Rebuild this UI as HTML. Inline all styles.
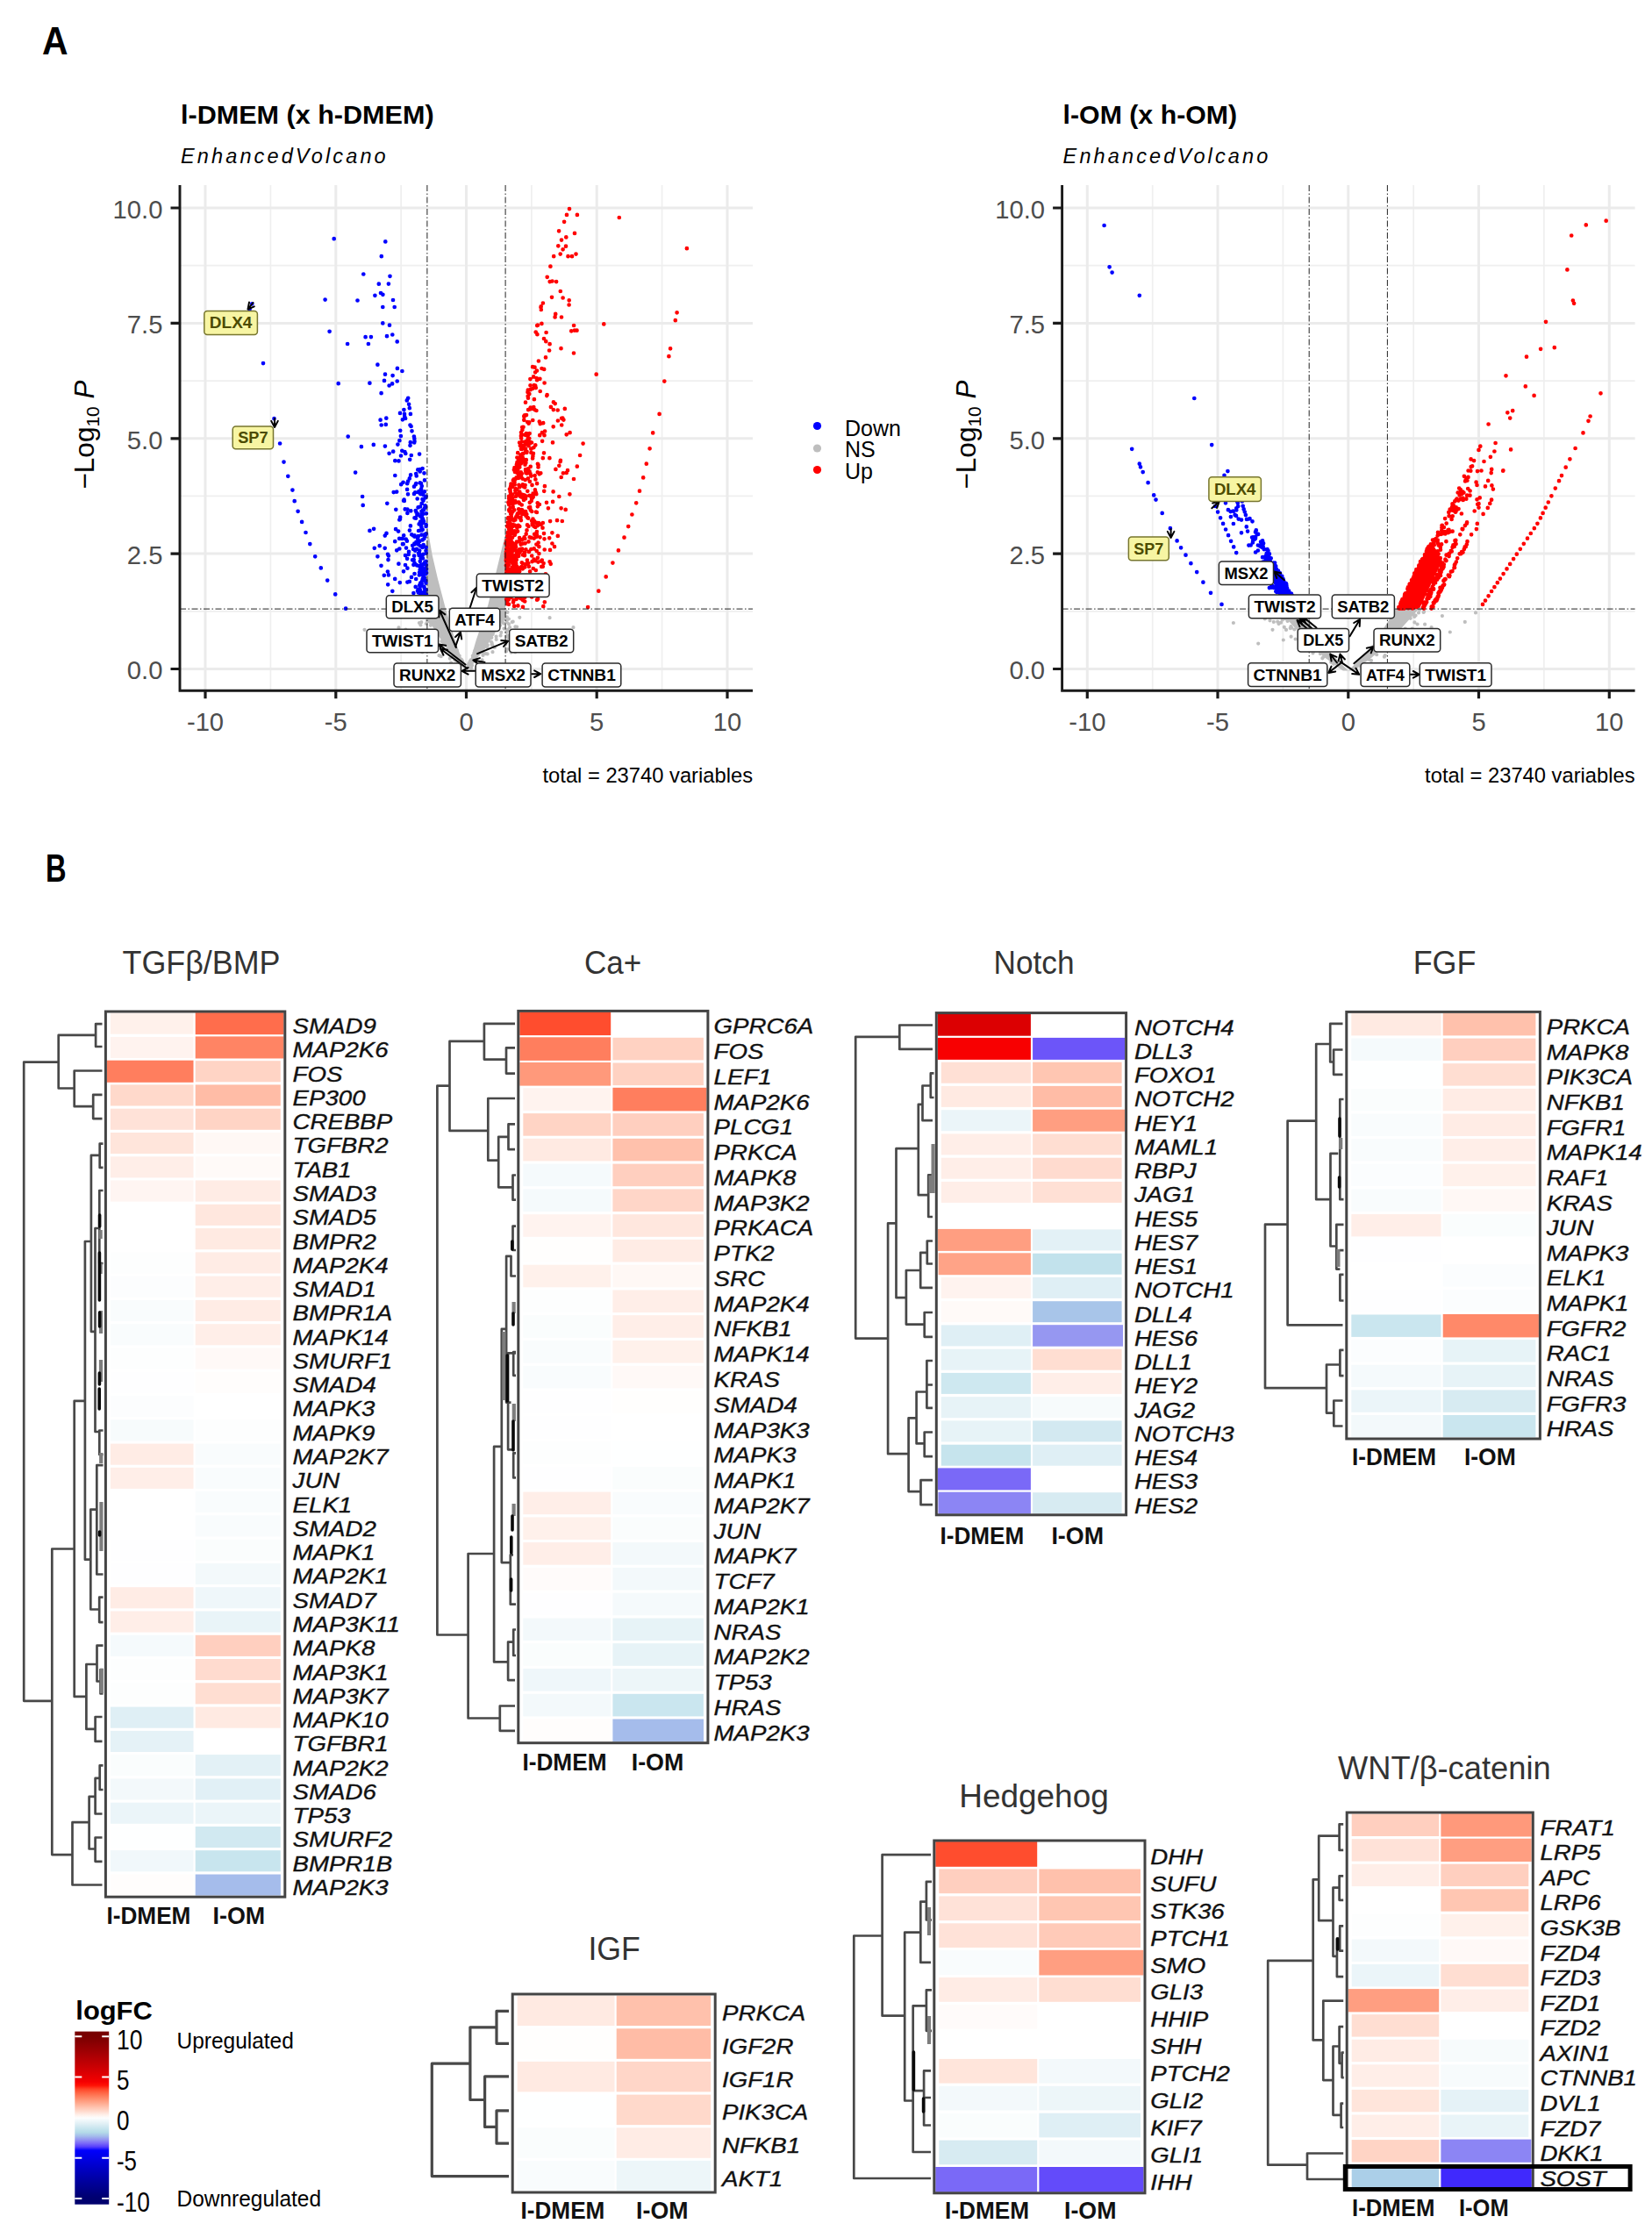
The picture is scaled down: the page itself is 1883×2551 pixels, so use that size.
<!DOCTYPE html>
<html lang="en"><head><meta charset="utf-8"><title>Figure</title>
<style>
html,body{margin:0;padding:0;background:#fff}
svg{display:block}
text{font-family:"Liberation Sans", sans-serif}
</style></head><body>
<svg width="1883" height="2551" viewBox="0 0 1883 2551">
<rect width="1883" height="2551" fill="#fff"/>
<text x="48.1" y="61.7" font-size="44" font-weight="bold" textLength="29.6" lengthAdjust="spacingAndGlyphs">A</text>
<path d="M308.4 211.0V787.3M457.1 211.0V787.3M605.9 211.0V787.3M754.6 211.0V787.3M205.0 696.8H858.0M205.0 565.4H858.0M205.0 434.1H858.0M205.0 302.7H858.0" stroke="#efefef" stroke-width="1.7" fill="none"/>
<path d="M234.0 211.0V787.3M382.8 211.0V787.3M531.5 211.0V787.3M680.2 211.0V787.3M829.0 211.0V787.3M205.0 762.5H858.0M205.0 631.1H858.0M205.0 499.8H858.0M205.0 368.4H858.0M205.0 237.0H858.0" stroke="#ebebeb" stroke-width="3" fill="none"/>
<polygon points="531.5,764.1 530.3,762.5 525.5,749.4 518.7,729.4 507.7,693.1 498.8,659.0 492.7,632.7 486.9,599.6 486.9,704.7 510.7,741.5" fill="#bebebe"/>
<polygon points="531.5,764.1 532.7,762.5 537.5,747.8 542.8,729.4 556.2,690.0 564.2,657.4 570.2,632.7 576.1,608.5 576.1,702.1 552.3,740.4" fill="#bebebe"/>
<path d="M505.9 728.5h0M558.3 715.6h0M507.9 735.1h0M516.9 746.3h0M495.1 690.6h0M574.6 679.4h0M559.5 704.6h0M535.6 754.3h0M519.6 747.6h0M493.7 690.8h0M560.6 732.8h0M518.0 734.9h0M575.9 696.0h0M520.1 750.1h0M527.0 753.6h0M549.7 737.6h0M569.5 701.0h0M553.3 716.1h0M550.1 740.5h0M544.6 740.7h0M515.7 749.0h0M519.4 741.0h0M527.4 754.7h0M552.3 727.5h0M498.4 718.3h0M511.9 737.3h0M518.4 752.5h0M491.8 690.7h0M513.0 736.4h0M487.3 708.5h0M518.9 737.8h0M526.8 756.0h0M504.9 709.1h0M510.5 740.1h0M553.9 745.1h0M523.4 751.2h0M568.3 684.0h0M573.6 693.4h0M489.0 706.5h0M525.5 754.3h0M488.5 678.0h0M494.5 728.6h0M545.6 740.0h0M520.2 751.0h0M569.8 698.5h0M541.8 744.7h0M518.4 738.8h0M514.1 728.4h0M538.7 754.6h0M561.3 735.1h0M558.2 708.9h0M490.7 685.2h0M574.5 716.6h0M498.5 699.5h0M486.9 707.4h0M571.8 693.9h0M563.3 708.9h0M500.5 747.2h0M570.6 724.5h0M557.7 724.0h0M549.5 740.3h0M502.4 717.3h0M570.9 682.3h0M558.0 725.6h0M493.8 724.8h0M504.1 723.0h0M520.1 742.2h0M572.7 709.2h0M529.5 759.1h0M522.7 753.6h0M561.5 743.2h0M501.3 717.1h0M511.4 732.5h0M549.6 752.4h0M546.6 739.0h0M569.6 706.7h0M574.0 675.1h0M518.1 741.0h0M512.2 734.4h0M493.8 708.0h0M552.5 721.2h0M534.8 755.8h0M557.6 719.5h0M524.2 756.3h0M528.9 757.9h0M528.0 757.0h0M552.2 733.9h0M574.3 705.5h0M541.6 745.7h0M509.6 719.3h0M540.7 743.7h0M555.4 727.9h0M565.6 725.6h0M536.7 755.7h0M564.1 711.4h0M572.2 700.2h0M505.5 733.7h0M553.0 736.6h0M541.8 743.0h0M563.9 737.9h0M491.2 760.0h0M567.1 695.6h0M490.8 696.0h0M511.0 731.4h0M566.1 694.8h0M535.8 753.5h0M540.4 749.5h0M523.6 755.0h0M564.2 713.0h0M554.2 736.2h0M536.7 752.3h0M498.6 723.9h0M555.5 724.1h0M513.6 739.7h0M571.8 691.8h0M555.6 745.4h0M541.7 749.7h0M534.2 757.3h0M555.2 738.0h0M554.2 732.1h0M535.8 756.5h0M572.8 682.1h0M509.6 729.5h0M571.8 699.7h0M516.3 736.9h0M538.6 754.3h0M534.0 757.7h0M546.9 737.5h0M503.3 731.0h0M508.0 731.3h0M521.5 749.6h0M512.2 725.8h0M539.9 747.2h0M555.8 735.5h0M559.4 712.5h0M568.0 700.4h0M546.6 740.5h0M486.9 738.5h0M538.8 747.6h0M525.8 757.5h0M551.2 722.4h0M500.5 710.3h0M521.3 748.4h0M538.0 758.5h0M565.7 728.9h0M527.0 753.3h0M528.4 758.7h0M539.3 748.1h0M521.2 753.7h0M537.1 761.4h0M489.0 726.5h0M509.9 724.5h0M551.5 721.7h0M569.4 684.3h0M510.4 720.4h0M522.9 751.2h0M533.7 760.2h0M570.1 712.8h0M550.4 735.8h0M567.7 704.2h0M490.7 680.7h0M550.5 746.9h0M570.9 695.6h0M550.5 745.1h0M536.0 754.9h0M514.7 739.6h0M559.9 707.6h0M547.6 757.3h0M557.6 726.0h0M560.7 704.7h0M565.8 694.7h0M564.9 691.9h0M512.7 732.5h0M525.8 751.6h0M490.9 712.8h0M557.5 714.3h0M560.5 703.7h0M565.7 699.0h0M489.9 695.6h0M508.6 731.5h0M535.5 756.9h0M558.8 711.5h0M517.7 741.4h0M499.1 721.1h0M529.4 758.2h0M497.5 700.1h0M491.3 680.3h0M573.7 682.6h0M490.9 709.8h0M543.5 741.3h0M573.4 679.1h0M568.2 714.9h0M538.0 752.6h0M527.8 757.0h0M538.4 755.1h0M518.7 741.1h0M551.1 723.9h0M574.1 710.6h0M543.3 751.6h0M559.9 731.6h0M518.3 740.4h0M560.3 726.8h0M541.2 742.0h0M570.9 761.7h0M527.4 754.5h0M537.4 754.6h0M536.1 757.1h0M560.2 718.1h0M509.4 720.8h0M569.2 707.5h0M524.8 751.3h0M542.2 750.2h0M518.9 739.9h0M575.7 698.1h0M506.3 712.0h0M514.1 755.3h0M492.3 692.6h0M553.9 718.0h0M545.9 732.5h0M501.5 709.5h0M516.9 735.2h0M523.8 755.3h0M498.7 703.3h0M557.5 714.2h0M573.5 702.0h0M546.1 737.4h0M512.8 750.6h0M514.4 738.0h0M514.3 737.1h0M505.7 721.0h0M556.3 722.0h0M497.3 719.8h0M545.1 745.7h0M557.5 710.3h0M561.1 702.1h0M567.0 695.9h0M526.5 752.9h0M502.7 748.2h0M497.8 704.5h0M497.0 707.0h0M566.0 707.6h0M562.0 710.3h0M506.8 717.1h0M550.7 744.0h0M561.7 723.0h0M571.3 720.9h0M560.6 734.7h0M551.2 724.0h0M523.7 747.5h0M511.7 731.9h0M516.7 759.7h0M502.1 704.4h0M510.2 728.5h0M572.2 690.0h0M520.6 741.1h0M499.1 710.0h0M517.9 738.6h0M497.3 704.4h0M553.7 734.8h0M464.1 699.4h0M478.6 697.3h0M484.3 741.7h0M593.0 725.3h0M583.7 730.7h0M587.3 732.5h0M480.2 725.9h0M589.1 714.5h0M485.1 728.4h0M465.7 718.9h0M628.0 731.1h0M577.8 706.5h0M468.9 702.8h0M577.0 730.9h0M577.2 720.6h0M454.5 715.4h0M579.9 705.5h0M461.0 739.7h0M578.6 717.6h0M577.9 703.4h0M483.0 740.4h0M480.3 709.2h0M474.8 738.9h0M480.4 696.9h0M587.2 743.5h0M474.0 732.5h0M582.5 743.6h0M592.9 734.0h0M579.7 725.7h0M579.8 727.6h0M475.4 731.6h0M473.2 728.0h0M584.7 708.7h0M468.6 739.6h0M485.8 711.0h0M578.2 724.4h0M585.5 739.7h0M485.1 738.0h0M486.1 699.1h0M479.4 712.5h0M594.0 725.2h0M481.3 743.4h0M474.3 696.1h0M587.4 714.4h0M482.7 727.4h0M577.3 725.7h0M592.3 703.8h0M577.9 706.6h0M584.4 726.9h0M577.7 709.2h0M583.7 709.1h0M578.4 697.9h0M578.4 740.0h0M477.9 710.0h0M459.3 726.5h0M485.5 696.5h0M462.5 717.5h0M584.7 731.2h0M626.6 704.2h0M577.5 703.8h0M463.2 732.3h0M594.6 735.0h0M577.0 742.5h0M441.7 698.2h0M580.0 711.3h0M581.1 715.2h0M576.3 734.4h0M485.3 725.2h0M578.1 718.7h0M478.1 727.9h0M415.5 717.8h0M653.5 715.2h0M454.1 731.0h0M605.9 723.1h0" stroke="#bebebe" stroke-width="4.2" stroke-linecap="round" fill="none"/>
<path d="M443.6 516.8h0M472.5 590.3h0M444.0 370.7h0M476.7 561.1h0M485.6 600.0h0M434.7 484.5h0M466.8 465.2h0M481.2 662.0h0M483.7 676.5h0M485.5 627.8h0M457.0 519.5h0M462.0 644.0h0M478.7 666.9h0M485.6 639.9h0M485.8 608.3h0M479.7 681.5h0M456.2 589.6h0M464.4 647.7h0M472.5 503.1h0M480.0 643.7h0M441.9 651.5h0M458.7 613.9h0M454.4 642.7h0M442.9 633.6h0M485.7 598.0h0M465.1 548.7h0M478.6 669.1h0M462.0 633.1h0M455.3 592.5h0M473.8 582.0h0M463.9 616.7h0M461.7 580.4h0M466.8 545.4h0M452.7 434.5h0M485.9 644.1h0M459.6 549.8h0M479.3 651.7h0M467.9 599.4h0M478.7 672.1h0M482.5 657.9h0M474.2 540.0h0M483.4 668.9h0M442.9 655.4h0M483.9 674.5h0M481.0 585.0h0M483.0 594.2h0M485.4 609.3h0M451.3 680.7h0M483.4 642.5h0M481.4 592.6h0M485.7 679.4h0M459.0 620.2h0M469.2 609.3h0M478.0 645.2h0M479.9 654.7h0M452.2 627.3h0M472.3 611.6h0M460.0 651.3h0M469.5 491.3h0M465.2 453.8h0M463.0 624.6h0M485.7 623.9h0M484.4 609.1h0M478.8 550.4h0M475.7 568.5h0M467.5 484.6h0M481.1 632.9h0M485.8 630.6h0M470.7 683.3h0M462.3 517.0h0M468.8 519.0h0M478.6 535.1h0M479.7 674.7h0M479.4 633.0h0M485.3 654.1h0M476.7 620.5h0M472.3 499.9h0M480.5 609.7h0M480.2 675.9h0M481.6 623.9h0M479.6 636.4h0M474.7 542.5h0M478.7 537.4h0M472.1 633.7h0M481.8 659.8h0M478.7 649.4h0M483.8 692.4h0M474.5 583.8h0M472.0 562.9h0M472.4 619.5h0M477.9 655.5h0M462.7 614.6h0M484.2 641.2h0M485.2 578.0h0M480.4 666.2h0M434.6 448.2h0M471.7 638.0h0M456.2 490.8h0M432.7 622.2h0M452.2 560.6h0M447.3 381.5h0M478.1 517.6h0M480.8 554.1h0M467.5 507.8h0M485.9 677.3h0M482.5 631.8h0M481.5 569.0h0M452.9 419.9h0M468.1 541.4h0M467.8 504.2h0M478.1 652.6h0M485.9 585.3h0M481.9 561.1h0M483.1 642.9h0M480.8 647.6h0M476.9 675.3h0M480.1 597.3h0M485.5 682.7h0M478.3 616.9h0M486.0 687.7h0M441.3 573.8h0M440.5 607.9h0M471.9 497.5h0M480.1 557.3h0M467.2 523.8h0M474.4 617.9h0M479.8 667.8h0M461.0 471.9h0M480.7 665.5h0M482.7 688.1h0M460.1 570.7h0M438.7 624.8h0M480.3 600.5h0M456.9 497.1h0M481.7 651.1h0M481.6 534.1h0M450.3 542.0h0M464.4 580.6h0M453.4 506.6h0M476.8 611.2h0M479.0 577.5h0M480.0 551.1h0M474.0 590.7h0M440.3 476.7h0M483.6 661.5h0M458.4 423.0h0M414.3 312.5h0M479.2 594.5h0M477.6 633.0h0M438.0 433.9h0M407.5 342.5h0M481.6 615.4h0M442.9 323.6h0M460.2 610.3h0M476.7 672.2h0M486.1 648.6h0M482.7 621.0h0M484.0 547.4h0M472.2 504.4h0M450.2 617.2h0M462.1 477.0h0M469.0 657.9h0M454.1 605.6h0M476.8 619.5h0M465.7 632.0h0M458.3 513.8h0M467.9 471.9h0M451.1 603.2h0M477.9 630.4h0M477.1 605.0h0M426.1 602.8h0M457.2 552.2h0M473.7 668.9h0M482.0 683.7h0M456.0 591.7h0M476.0 673.4h0M481.5 644.7h0M483.8 658.5h0M472.5 654.1h0M442.5 638.1h0M466.8 662.9h0M479.1 683.4h0M479.3 664.5h0M485.4 661.9h0M476.6 578.4h0M479.5 604.4h0M482.2 563.8h0M466.9 604.6h0M458.9 478.3h0M466.0 628.9h0M483.4 677.9h0M479.6 664.4h0M450.3 525.2h0M481.9 581.7h0M461.2 474.8h0M479.1 588.5h0M479.1 677.1h0M484.7 567.4h0M483.4 614.0h0M460.4 467.1h0M474.3 551.1h0M476.4 614.7h0M471.1 626.0h0M470.1 638.3h0M442.0 631.8h0M455.3 625.5h0M476.8 675.5h0M485.7 565.9h0M443.6 439.5h0M481.8 596.2h0M464.4 663.6h0M455.8 664.1h0M479.3 563.1h0M460.8 571.0h0M480.6 589.7h0M461.4 515.0h0M471.1 610.4h0M482.0 654.2h0M478.8 654.7h0M472.5 610.3h0M472.0 554.7h0M455.4 502.2h0M464.1 557.9h0M475.6 612.8h0M465.0 563.3h0M482.6 585.7h0M473.3 627.7h0M483.9 560.4h0M485.0 648.2h0M425.8 506.9h0M477.1 630.8h0M482.5 570.7h0M482.9 660.6h0M481.1 633.4h0M434.0 334.0h0M433.6 478.7h0M471.4 676.0h0M472.6 641.8h0M448.7 561.1h0M485.5 664.6h0M473.2 561.3h0M455.9 681.9h0M448.0 342.0h0M480.7 573.9h0M468.3 582.3h0M476.5 586.0h0M474.2 660.0h0M436.4 335.8h0M473.8 552.2h0M484.6 576.3h0M444.5 314.8h0M441.0 383.2h0M466.1 460.8h0M439.0 426.7h0M470.2 621.8h0M482.0 636.4h0M448.2 514.7h0M479.6 652.5h0M447.1 437.4h0M464.1 636.8h0M482.2 650.9h0M439.8 483.9h0M483.9 670.9h0M481.3 604.3h0M438.8 610.6h0M482.6 621.3h0M464.2 551.2h0M485.7 686.5h0M472.5 620.5h0M450.2 659.9h0M455.2 613.9h0M485.8 672.3h0M478.2 627.6h0M460.6 569.7h0M471.4 643.8h0M482.8 655.3h0M447.6 428.1h0M485.6 649.7h0M463.8 456.4h0M486.1 653.0h0M475.3 644.4h0M482.0 591.6h0M481.9 678.9h0M481.0 589.5h0M481.7 603.7h0M483.8 579.4h0M468.6 486.0h0M478.2 667.2h0M480.5 582.8h0M478.4 691.9h0M476.3 535.4h0M475.4 587.1h0M477.7 597.4h0M416.6 384.2h0M451.3 580.8h0M464.4 584.9h0M483.2 581.1h0M411.9 509.2h0M478.8 639.8h0M459.7 620.2h0M447.3 673.8h0M483.5 539.3h0M477.5 560.0h0M484.3 611.2h0M454.5 525.4h0M475.0 625.8h0M438.9 508.6h0M479.0 622.3h0M480.2 680.4h0M456.0 470.9h0M380.7 272.2h0M439.3 275.4h0M434.8 292.2h0M431.8 323.7h0M427.4 336.8h0M370.6 341.6h0M436.3 350.0h0M449.7 350.0h0M436.3 368.4h0M375.6 377.8h0M396.1 392.0h0M422.9 384.1h0M419.9 392.0h0M452.7 389.4h0M385.7 437.2h0M421.4 436.7h0M430.4 415.7h0M442.2 666.3h0M437.8 655.8h0M434.5 644.8h0M430.4 634.3h0M426.8 624.8h0M421.4 604.9h0M413.7 575.9h0M413.1 566.0h0M405.1 538.6h0M396.7 497.6h0M394.1 693.7h0M382.2 677.4h0M373.2 661.6h0M365.8 647.4h0M359.2 634.3h0M353.3 620.1h0M348.5 607.0h0M344.1 594.9h0M339.6 582.8h0M335.7 571.2h0M333.4 558.6h0M328.3 542.8h0M323.5 526.6h0M319.1 505.5h0M312.5 477.2h0M300.0 414.1h0M287.3 346.3h0M284.6 352.6h0" stroke="#0000ff" stroke-width="4.7" stroke-linecap="round" fill="none"/>
<path d="M577.3 635.6h0M611.2 611.9h0M584.4 598.2h0M606.1 593.6h0M599.8 524.2h0M582.2 562.7h0M589.1 653.3h0M640.1 476.8h0M595.4 490.1h0M580.5 582.6h0M594.0 669.7h0M589.9 657.7h0M610.2 601.0h0M577.2 675.5h0M584.0 582.9h0M624.9 579.3h0M596.0 659.3h0M603.8 572.8h0M596.0 632.4h0M580.8 609.6h0M604.7 531.8h0M599.5 587.9h0M629.4 607.3h0M589.4 601.4h0M642.4 478.6h0M593.9 593.1h0M594.0 563.3h0M585.4 684.2h0M647.0 536.2h0M585.4 644.3h0M622.3 389.2h0M630.7 486.3h0M584.7 633.5h0M583.7 629.0h0M610.8 650.0h0M578.3 626.0h0M641.9 539.3h0M598.6 553.0h0M611.9 668.7h0M577.0 629.1h0M580.8 607.6h0M627.4 303.7h0M617.9 659.8h0M577.6 631.0h0M626.6 392.2h0M603.6 494.1h0M597.1 582.8h0M591.4 552.8h0M610.1 639.2h0M595.2 615.0h0M584.3 649.2h0M636.3 280.3h0M588.7 638.0h0M584.9 671.6h0M597.6 612.4h0M579.6 682.8h0M599.0 511.7h0M581.3 626.0h0M576.9 634.1h0M578.0 621.6h0M630.1 571.9h0M613.5 532.4h0M584.3 598.5h0M607.1 418.2h0M608.3 464.1h0M600.3 668.9h0M605.7 571.0h0M577.9 653.7h0M598.2 555.5h0M591.2 544.8h0M580.8 640.4h0M585.5 550.0h0M607.9 516.9h0M577.8 616.6h0M638.6 526.2h0M578.8 678.8h0M605.8 680.0h0M583.5 619.3h0M589.5 526.9h0M592.3 555.2h0M640.2 484.5h0M612.9 635.8h0M579.9 670.8h0M613.6 530.1h0M583.8 672.5h0M602.5 617.4h0M591.0 647.4h0M596.7 554.6h0M578.7 668.1h0M593.6 584.5h0M623.3 451.1h0M577.0 653.8h0M616.8 353.0h0M577.9 660.8h0M578.6 643.5h0M589.3 564.5h0M579.5 573.1h0M585.9 535.5h0M582.0 603.6h0M590.1 605.6h0M627.0 626.9h0M599.9 494.0h0M609.6 467.1h0M596.4 517.3h0M583.9 554.9h0M598.5 529.7h0M583.6 631.3h0M580.9 557.5h0M619.3 691.2h0M598.4 525.8h0M581.6 596.6h0M604.3 466.3h0M615.4 431.8h0M606.9 598.3h0M592.9 507.9h0M610.6 678.3h0M581.6 560.5h0M599.5 565.8h0M620.5 614.3h0M583.2 626.4h0M585.0 686.5h0M580.7 572.6h0M645.7 538.9h0M593.5 625.8h0M582.6 603.0h0M580.2 581.2h0M582.9 601.8h0M590.7 653.5h0M602.1 590.7h0M619.3 656.8h0M582.2 671.2h0M600.6 539.6h0M577.1 654.5h0M614.7 540.3h0M602.3 642.0h0M629.4 619.5h0M584.0 677.0h0M578.6 634.1h0M604.7 464.7h0M594.8 495.8h0M597.5 664.3h0M591.1 522.7h0M585.9 657.6h0M583.1 600.1h0M581.4 609.5h0M581.1 605.0h0M587.7 663.3h0M587.8 606.8h0M598.0 632.9h0M580.3 612.5h0M578.7 595.7h0M590.7 525.3h0M612.0 422.6h0M590.9 542.1h0M603.7 612.3h0M584.6 658.1h0M578.3 664.0h0M584.5 583.1h0M593.8 566.3h0M578.4 665.0h0M581.4 592.1h0M596.0 691.9h0M603.5 670.0h0M593.9 511.8h0M582.2 586.0h0M585.1 655.8h0M590.4 690.4h0M582.8 651.6h0M608.9 455.2h0M598.8 659.2h0M586.8 657.8h0M603.2 481.3h0M591.2 584.5h0M596.5 486.8h0M577.0 675.8h0M580.1 679.9h0M591.6 655.9h0M591.0 648.2h0M579.5 637.6h0M618.8 645.8h0M583.3 623.2h0M654.0 402.5h0M614.4 623.2h0M599.4 642.9h0M581.8 674.5h0M579.3 634.7h0M586.5 598.7h0M597.6 507.9h0M580.3 629.9h0M594.5 581.0h0M579.1 590.9h0M608.2 429.4h0M602.5 508.2h0M581.3 567.8h0M630.9 458.4h0M604.2 674.7h0M590.4 650.5h0M602.9 578.6h0M578.6 667.5h0M577.7 679.0h0M640.0 273.6h0M580.9 629.2h0M587.2 599.2h0M587.1 638.1h0M599.4 539.1h0M578.1 641.8h0M591.4 572.7h0M613.6 618.7h0M616.7 349.3h0M598.1 473.4h0M597.7 671.9h0M610.3 507.3h0M638.9 524.9h0M613.9 411.5h0M592.1 504.6h0M579.9 602.2h0M616.6 597.9h0M588.7 682.8h0M586.6 536.1h0M630.0 504.4h0M589.5 586.7h0M655.0 376.7h0M648.7 342.3h0M620.8 686.3h0M580.7 602.9h0M586.2 622.6h0M618.8 596.1h0M576.9 644.5h0M583.6 623.4h0M580.1 568.2h0M626.2 613.3h0M649.6 493.2h0M585.8 651.8h0M579.7 656.4h0M579.0 669.9h0M588.0 623.2h0M577.7 665.6h0M615.7 483.1h0M597.2 672.0h0M579.4 590.2h0M583.9 567.5h0M614.8 480.6h0M586.5 549.7h0M591.9 626.4h0M611.9 609.4h0M599.0 458.7h0M599.1 536.7h0M577.0 637.1h0M612.8 577.3h0M577.8 620.9h0M578.2 680.1h0M641.3 476.5h0M607.6 562.7h0M596.6 670.6h0M579.1 612.3h0M581.3 593.5h0M598.6 564.9h0M581.8 631.4h0M601.5 496.9h0M588.9 627.6h0M607.2 597.7h0M584.0 649.4h0M582.8 666.9h0M578.1 660.4h0M583.3 655.9h0M598.3 614.1h0M627.1 594.1h0M645.0 280.7h0M597.8 671.4h0M582.7 654.2h0M617.2 667.6h0M607.5 591.6h0M578.1 599.8h0M610.4 595.6h0M604.1 651.4h0M591.6 521.8h0M609.0 594.0h0M582.1 632.0h0M581.6 680.4h0M585.4 684.7h0M591.3 627.8h0M579.8 614.1h0M589.4 521.6h0M603.5 537.4h0M581.1 654.9h0M654.1 371.0h0M592.3 532.4h0M601.2 481.0h0M585.8 593.3h0M616.3 539.3h0M587.3 558.9h0M645.3 270.4h0M597.0 569.9h0M578.9 666.5h0M578.6 644.9h0M596.6 523.5h0M599.7 536.6h0M613.4 640.6h0M599.1 535.0h0M620.0 608.1h0M598.3 646.5h0M586.6 605.3h0M619.2 482.2h0M607.9 466.0h0M605.3 511.7h0M621.1 491.5h0M578.5 650.1h0M612.6 665.8h0M593.4 525.8h0M586.4 591.6h0M611.0 583.5h0M580.0 618.9h0M592.3 560.6h0M581.6 579.0h0M581.3 592.5h0M580.8 636.4h0M588.4 632.9h0M597.4 632.7h0M586.0 592.2h0M630.6 560.4h0M577.2 665.0h0M593.8 680.1h0M577.2 683.1h0M611.4 620.6h0M577.9 635.8h0M586.8 643.6h0M585.8 546.4h0M592.2 573.8h0M598.6 547.0h0M590.9 572.6h0M579.6 666.8h0M615.7 446.0h0M584.7 657.6h0M594.1 627.0h0M601.8 444.7h0M605.4 516.0h0M596.4 567.8h0M578.2 688.3h0M600.0 473.1h0M605.4 542.6h0M611.6 431.0h0M597.9 633.2h0M588.9 529.4h0M590.1 681.5h0M578.1 685.7h0M585.3 637.2h0M587.5 573.0h0M584.0 646.5h0M594.0 543.2h0M618.8 522.2h0M594.1 499.4h0M600.5 514.8h0M589.4 538.8h0M598.1 495.6h0M593.5 589.8h0M591.3 589.6h0M581.0 557.4h0M581.5 628.2h0M579.9 683.3h0M620.0 386.0h0M592.9 664.5h0M579.8 626.0h0M588.4 672.5h0M606.7 596.9h0M608.7 625.4h0M595.9 642.5h0M587.8 559.3h0M579.8 612.7h0M606.0 567.8h0M612.8 538.3h0M608.7 613.6h0M599.1 503.3h0M581.8 605.1h0M592.2 651.3h0M615.5 612.3h0M640.0 361.5h0M588.6 544.4h0M612.4 596.2h0M586.0 653.8h0M580.9 598.5h0M579.6 621.7h0M582.6 564.7h0M589.0 617.6h0M594.1 507.9h0M578.0 622.9h0M581.8 681.1h0M578.2 664.6h0M604.1 578.2h0M599.0 568.4h0M583.2 604.2h0M611.3 563.2h0M587.5 561.6h0M587.9 649.1h0M590.0 676.7h0M604.8 581.4h0M577.4 625.7h0M599.9 678.1h0M604.2 504.1h0M588.9 599.5h0M584.2 642.1h0M582.1 673.4h0M593.3 582.1h0M607.3 442.8h0M593.0 584.3h0M598.8 515.4h0M581.6 572.2h0M617.5 420.0h0M657.5 376.7h0M578.5 647.1h0M577.1 630.5h0M626.4 522.2h0M614.0 596.0h0M591.4 585.0h0M604.2 669.9h0M592.0 659.9h0M592.0 532.7h0M606.0 677.6h0M594.0 493.0h0M577.9 649.0h0M586.5 651.2h0M620.9 554.2h0M595.4 586.1h0M610.4 546.4h0M606.2 680.4h0M587.9 557.0h0M595.1 511.8h0M580.8 610.3h0M594.5 627.6h0M588.3 589.0h0M594.7 539.9h0M581.3 568.5h0M591.2 580.3h0M590.7 628.6h0M627.7 642.8h0M637.3 566.0h0M578.2 611.2h0M592.1 648.1h0M580.1 565.8h0M576.8 661.1h0M604.5 439.3h0M606.2 583.0h0M577.6 615.7h0M605.5 566.1h0M604.4 432.1h0M580.0 654.7h0M585.3 662.7h0M584.9 547.4h0M615.2 496.2h0M602.0 668.6h0M586.5 533.1h0M587.3 571.2h0M583.9 563.7h0M577.7 648.9h0M612.7 599.2h0M586.8 646.2h0M579.4 654.7h0M586.9 621.7h0M581.6 558.7h0M596.2 672.8h0M580.0 688.8h0M582.3 670.5h0M594.7 575.5h0M620.6 436.5h0M589.1 648.8h0M606.2 633.5h0M593.1 543.7h0M589.1 645.5h0M588.1 641.9h0M585.7 665.1h0M635.0 593.2h0M617.8 638.5h0M586.9 546.7h0M590.2 535.8h0M637.3 530.8h0M579.8 627.8h0M583.0 552.6h0M601.6 501.9h0M603.4 564.8h0M610.2 439.7h0M581.6 667.2h0M602.9 645.8h0M579.8 643.7h0M580.6 665.4h0M599.4 527.4h0M586.8 609.8h0M584.7 655.8h0M576.8 638.9h0M591.8 630.2h0M587.5 533.1h0M587.6 627.5h0M592.1 613.1h0M594.8 641.3h0M587.4 592.4h0M579.6 632.8h0M582.7 588.2h0M579.4 644.0h0M614.4 631.1h0M594.4 646.0h0M612.2 371.1h0M581.2 616.0h0M580.4 657.7h0M582.4 648.5h0M616.7 639.6h0M597.5 526.7h0M639.6 579.3h0M577.1 635.4h0M619.6 642.1h0M610.8 442.1h0M581.8 603.0h0M576.7 619.4h0M595.1 581.4h0M585.6 625.1h0M589.9 658.0h0M592.3 600.0h0M578.5 667.8h0M639.5 397.2h0M610.1 424.3h0M584.1 670.3h0M613.1 682.8h0M580.0 616.9h0M635.9 479.5h0M593.8 528.5h0M602.4 599.9h0M585.0 608.0h0M582.6 616.0h0M601.6 500.5h0M580.3 599.2h0M591.6 617.1h0M589.5 664.3h0M597.4 475.0h0M583.2 620.1h0M586.1 677.9h0M577.8 642.0h0M621.1 668.9h0M595.5 545.6h0M611.9 606.1h0M592.1 529.2h0M608.6 637.6h0M601.1 642.5h0M583.2 584.5h0M597.3 474.3h0M580.2 610.9h0M599.6 495.9h0M588.8 628.9h0M620.2 666.0h0M612.1 433.2h0M579.5 572.3h0M582.9 660.2h0M606.6 640.1h0M577.2 656.0h0M623.6 450.2h0M582.5 551.7h0M601.2 589.9h0M576.9 638.9h0M587.9 619.6h0M609.5 418.7h0M620.7 626.5h0M606.5 566.2h0M598.9 505.3h0M582.9 680.0h0M618.9 345.5h0M620.0 516.3h0M580.8 640.6h0M617.9 493.2h0M590.8 598.8h0M607.3 479.0h0M601.0 598.4h0M577.5 650.8h0M593.8 682.3h0M643.8 465.9h0M582.5 669.8h0M589.3 558.0h0M612.4 381.2h0M598.3 629.5h0M609.2 608.9h0M614.9 575.0h0M587.9 647.9h0M599.7 608.7h0M580.0 574.5h0M618.5 601.7h0M592.6 565.4h0M585.2 570.7h0M600.5 506.1h0M591.2 633.8h0M602.0 534.4h0M579.8 644.2h0M589.9 585.5h0M589.2 545.1h0M632.7 460.1h0M600.9 638.6h0M629.0 338.8h0M595.1 625.7h0M609.9 558.4h0M590.7 647.8h0M627.9 463.9h0M612.9 528.8h0M580.5 604.7h0M585.7 572.6h0M585.3 624.2h0M595.8 521.7h0M578.6 657.3h0M593.8 538.4h0M633.4 534.9h0M595.6 524.9h0M606.0 504.5h0M584.7 578.0h0M581.0 633.5h0M585.1 657.0h0M588.8 634.8h0M604.9 670.9h0M580.8 592.1h0M583.6 677.6h0M583.7 606.0h0M585.1 646.9h0M635.7 467.5h0M581.8 659.7h0M584.6 641.5h0M587.0 537.9h0M591.0 660.6h0M600.5 604.4h0M638.8 332.0h0M584.4 575.5h0M620.2 559.8h0M580.8 628.3h0M576.8 631.6h0M639.7 544.0h0M617.7 662.0h0M579.5 612.3h0M595.9 552.4h0M603.3 499.8h0M592.1 617.4h0M593.1 541.0h0M608.8 600.1h0M623.0 572.8h0M595.1 524.9h0M609.6 542.1h0M610.7 561.3h0M583.2 564.8h0M582.9 590.6h0M598.3 680.8h0M580.3 620.2h0M597.3 478.8h0M585.8 673.0h0M592.5 523.4h0M590.6 563.1h0M606.5 552.9h0M629.5 320.5h0M587.9 566.0h0M590.2 516.2h0M598.6 619.3h0M577.7 641.8h0M607.7 566.4h0M598.2 685.5h0M586.1 690.9h0M603.3 449.1h0M578.7 607.2h0M607.4 520.0h0M622.6 379.0h0M592.7 590.4h0M618.1 502.8h0M599.2 583.0h0M604.5 540.0h0M601.3 559.8h0M579.6 606.0h0M596.2 684.2h0M593.1 676.5h0M581.4 611.3h0M603.8 505.4h0M604.6 444.2h0M583.4 598.9h0M626.1 399.5h0M593.4 518.7h0M648.6 347.5h0M608.4 510.1h0M620.5 496.2h0M582.2 659.2h0M600.3 586.2h0M605.4 612.9h0M599.4 626.3h0M600.4 496.0h0M583.9 654.3h0M580.0 601.0h0M582.6 671.1h0M603.8 548.8h0M605.4 626.0h0M599.4 505.0h0M611.4 468.0h0M587.9 632.9h0M581.9 592.7h0M608.9 439.1h0M579.0 641.4h0M583.6 564.0h0M598.1 585.9h0M617.3 645.9h0M612.7 573.3h0M630.8 467.1h0M611.9 584.0h0M585.0 620.1h0M633.2 357.9h0M606.9 567.6h0M586.7 552.5h0M581.8 666.2h0M601.0 670.1h0M583.4 637.2h0M607.8 648.0h0M596.5 564.0h0M610.5 668.5h0M583.5 677.2h0M586.1 648.0h0M595.2 487.1h0M578.3 657.7h0M586.3 581.3h0M601.4 676.9h0M583.8 623.3h0M595.0 503.5h0M579.6 682.9h0M620.2 420.9h0M602.6 482.7h0M582.1 634.9h0M581.0 660.5h0M580.2 575.2h0M588.1 533.6h0M602.1 467.1h0M578.2 628.6h0M587.4 652.7h0M595.8 648.3h0M591.1 564.2h0M584.2 640.0h0M612.1 551.2h0M587.8 657.1h0M612.9 370.7h0M651.2 377.3h0M583.9 618.6h0M587.3 675.7h0M584.0 612.7h0M601.7 451.6h0M583.2 585.4h0M607.1 522.4h0M582.1 554.4h0M595.8 647.1h0M578.5 630.3h0M580.3 632.1h0M578.6 648.7h0M590.9 530.2h0M611.7 628.1h0M603.0 628.9h0M645.7 495.3h0M579.4 572.8h0M579.0 641.6h0M582.4 615.0h0M580.4 565.5h0M595.9 619.6h0M578.5 623.9h0M579.4 620.4h0M579.6 677.6h0M616.5 350.2h0M617.4 368.9h0M578.7 648.2h0M593.9 496.9h0M577.6 660.2h0M587.4 607.7h0M592.9 672.7h0M610.7 378.6h0M594.1 676.4h0M579.8 651.1h0M638.7 289.6h0M602.2 495.4h0M593.6 620.6h0M601.5 447.0h0M622.0 407.4h0M602.0 453.7h0M587.9 671.5h0M582.4 650.5h0M601.8 545.4h0M579.3 674.5h0M632.6 361.4h0M594.9 520.6h0M584.4 600.0h0M600.4 515.8h0M595.9 517.2h0M637.1 263.3h0M646.0 244.9h0M643.1 252.8h0M649.0 238.1h0M657.9 244.9h0M655.0 265.9h0M641.6 284.3h0M647.5 292.2h0M652.0 292.2h0M656.5 289.6h0M631.2 292.2h0M623.7 315.8h0M634.1 321.1h0M641.6 339.5h0M626.7 321.1h0M612.1 683.7h0M616.5 670.5h0M621.9 654.4h0M626.6 640.3h0M632.0 623.2h0M635.8 610.9h0M640.8 594.0h0M644.7 580.9h0M649.4 563.3h0M654.0 546.0h0M657.8 531.7h0M661.1 519.0h0M664.6 505.6h0M679.7 426.7h0M688.3 369.4h0M705.8 248.0h0M670.1 692.1h0M682.3 673.7h0M690.7 657.4h0M698.4 641.6h0M704.9 627.4h0M711.5 612.7h0M716.2 600.1h0M720.4 586.5h0M725.2 573.3h0M729.0 559.7h0M733.2 544.4h0M736.8 528.7h0M740.6 511.3h0M744.2 493.4h0M751.6 471.9h0M757.3 434.6h0M762.4 406.2h0M764.1 397.3h0M769.8 365.2h0M771.6 356.3h0M782.9 283.2h0" stroke="#ff0000" stroke-width="4.7" stroke-linecap="round" fill="none"/>
<path d="M486.9 211.0V787.3M576.1 211.0V787.3M205.0 694.1H858.0" stroke="#222" stroke-width="1" stroke-dasharray="7 2.5 1.5 2.5" fill="none"/>
<path d="M535.6 693.0L543.2 669.8M544.6 677.7L543.2 669.8L537.4 675.3" stroke="#000" stroke-width="2" fill="none" stroke-linecap="round" stroke-linejoin="round"/>
<path d="M519.9 738.0L501.0 695.5M507.3 700.4L501.0 695.5L500.4 703.5" stroke="#000" stroke-width="2" fill="none" stroke-linecap="round" stroke-linejoin="round"/>
<path d="M519.3 736.8L524.9 720.5M526.2 728.4L524.9 720.5L519.1 726.0" stroke="#000" stroke-width="2" fill="none" stroke-linecap="round" stroke-linejoin="round"/>
<path d="M530.5 757.5L500.3 734.5M508.2 735.8L500.3 734.5L503.6 741.8" stroke="#000" stroke-width="2" fill="none" stroke-linecap="round" stroke-linejoin="round"/>
<path d="M532.5 762.0L502.0 739.5M509.9 740.7L502.0 739.5L505.5 746.7" stroke="#000" stroke-width="2" fill="none" stroke-linecap="round" stroke-linejoin="round"/>
<path d="M544.1 745.2L579.2 730.7M574.1 736.9L579.2 730.7L571.2 729.9" stroke="#000" stroke-width="2" fill="none" stroke-linecap="round" stroke-linejoin="round"/>
<path d="M552.6 754.9L539.3 752.5M546.9 750.1L539.3 752.5L545.6 757.5" stroke="#000" stroke-width="2" fill="none" stroke-linecap="round" stroke-linejoin="round"/>
<path d="M541.7 764.8L526.5 764.8M533.6 761.0L526.5 764.8L533.6 768.6" stroke="#000" stroke-width="2" fill="none" stroke-linecap="round" stroke-linejoin="round"/>
<path d="M605.9 768.2L616.2 768.2M609.1 772.0L616.2 768.2L609.1 764.4" stroke="#000" stroke-width="2" fill="none" stroke-linecap="round" stroke-linejoin="round"/>
<path d="M288.5 345.0L282.5 352.5M284.0 344.6L282.5 352.5L289.8 349.3" stroke="#000" stroke-width="2" fill="none" stroke-linecap="round" stroke-linejoin="round"/>
<path d="M313.0 477.0L313.0 487.0M309.2 479.9L313.0 487.0L316.8 479.9" stroke="#000" stroke-width="2" fill="none" stroke-linecap="round" stroke-linejoin="round"/>
<rect x="543.3" y="654.0" width="82.8" height="26.5" rx="3.5" fill="#ffffff" stroke="#2b2b2b" stroke-width="1.5"/>
<text x="584.7" y="673.6" font-size="18" font-weight="bold" text-anchor="middle" fill="#000000" textLength="70.8" lengthAdjust="spacingAndGlyphs">TWIST2</text>
<rect x="440.3" y="678.7" width="59.7" height="26.0" rx="3.5" fill="#ffffff" stroke="#2b2b2b" stroke-width="1.5"/>
<text x="470.1" y="698.1" font-size="18" font-weight="bold" text-anchor="middle" fill="#000000" textLength="47.7" lengthAdjust="spacingAndGlyphs">DLX5</text>
<rect x="512.3" y="693.2" width="57.5" height="26.4" rx="3.5" fill="#ffffff" stroke="#2b2b2b" stroke-width="1.5"/>
<text x="541.0" y="712.8" font-size="18" font-weight="bold" text-anchor="middle" fill="#000000" textLength="45.5" lengthAdjust="spacingAndGlyphs">ATF4</text>
<rect x="418.0" y="717.3" width="81.6" height="26.5" rx="3.5" fill="#ffffff" stroke="#2b2b2b" stroke-width="1.5"/>
<text x="458.8" y="736.9" font-size="18" font-weight="bold" text-anchor="middle" fill="#000000" textLength="69.6" lengthAdjust="spacingAndGlyphs">TWIST1</text>
<rect x="580.6" y="717.3" width="73.1" height="26.5" rx="3.5" fill="#ffffff" stroke="#2b2b2b" stroke-width="1.5"/>
<text x="617.2" y="736.9" font-size="18" font-weight="bold" text-anchor="middle" fill="#000000" textLength="61.1" lengthAdjust="spacingAndGlyphs">SATB2</text>
<rect x="449.0" y="756.0" width="76.4" height="26.9" rx="3.5" fill="#ffffff" stroke="#2b2b2b" stroke-width="1.5"/>
<text x="487.2" y="775.9" font-size="18" font-weight="bold" text-anchor="middle" fill="#000000" textLength="64.4" lengthAdjust="spacingAndGlyphs">RUNX2</text>
<rect x="542.2" y="756.0" width="62.8" height="26.9" rx="3.5" fill="#ffffff" stroke="#2b2b2b" stroke-width="1.5"/>
<text x="573.6" y="775.9" font-size="18" font-weight="bold" text-anchor="middle" fill="#000000" textLength="50.8" lengthAdjust="spacingAndGlyphs">MSX2</text>
<rect x="618.1" y="756.0" width="89.7" height="26.9" rx="3.5" fill="#ffffff" stroke="#2b2b2b" stroke-width="1.5"/>
<text x="663.0" y="775.9" font-size="18" font-weight="bold" text-anchor="middle" fill="#000000" textLength="77.7" lengthAdjust="spacingAndGlyphs">CTNNB1</text>
<rect x="232.8" y="354.4" width="60.6" height="27.2" rx="3.5" fill="#f7f5a3" stroke="#77762e" stroke-width="1.5"/>
<text x="263.1" y="374.4" font-size="18" font-weight="bold" text-anchor="middle" fill="#4c4b00" textLength="48.6" lengthAdjust="spacingAndGlyphs">DLX4</text>
<rect x="265.2" y="486.0" width="46.3" height="25.7" rx="3.5" fill="#f7f5a3" stroke="#77762e" stroke-width="1.5"/>
<text x="288.4" y="505.2" font-size="18" font-weight="bold" text-anchor="middle" fill="#4c4b00" textLength="34.3" lengthAdjust="spacingAndGlyphs">SP7</text>
<path d="M205.0 211.0V788.5999999999999M203.7 787.3H858.0" stroke="#1a1a1a" stroke-width="2.9" fill="none"/>
<path d="M234.0 787.3v9M382.8 787.3v9M531.5 787.3v9M680.2 787.3v9M829.0 787.3v9M205.0 762.5h-10.5M205.0 631.1h-10.5M205.0 499.8h-10.5M205.0 368.4h-10.5M205.0 237.0h-10.5" stroke="#1a1a1a" stroke-width="3.2" fill="none"/>
<text x="234.0" y="832.5" font-size="29.2" text-anchor="middle" fill="#4d4d4d">-10</text>
<text x="382.8" y="832.5" font-size="29.2" text-anchor="middle" fill="#4d4d4d">-5</text>
<text x="531.5" y="832.5" font-size="29.2" text-anchor="middle" fill="#4d4d4d">0</text>
<text x="680.2" y="832.5" font-size="29.2" text-anchor="middle" fill="#4d4d4d">5</text>
<text x="829.0" y="832.5" font-size="29.2" text-anchor="middle" fill="#4d4d4d">10</text>
<text x="185.4" y="774.4" font-size="29.2" text-anchor="end" fill="#4d4d4d">0.0</text>
<text x="185.4" y="643.0" font-size="29.2" text-anchor="end" fill="#4d4d4d">2.5</text>
<text x="185.4" y="511.6" font-size="29.2" text-anchor="end" fill="#4d4d4d">5.0</text>
<text x="185.4" y="380.3" font-size="29.2" text-anchor="end" fill="#4d4d4d">7.5</text>
<text x="185.4" y="248.9" font-size="29.2" text-anchor="end" fill="#4d4d4d">10.0</text>
<text x="206.0" y="141.0" font-size="29.5" font-weight="bold" textLength="288.6" lengthAdjust="spacingAndGlyphs">l-DMEM (x h-DMEM)</text>
<text x="206.0" y="186.0" font-size="23.5" font-style="italic" textLength="233.7" lengthAdjust="spacing">EnhancedVolcano</text>
<text x="858.0" y="892.0" font-size="23.7" text-anchor="end" textLength="239.5" lengthAdjust="spacingAndGlyphs">total = 23740 variables</text>
<g transform="translate(106.6,495.5) rotate(-90)"><text x="0" y="0" font-size="31.5" text-anchor="middle">−Log<tspan font-size="21" dy="6">10</tspan><tspan dy="-6"> </tspan><tspan font-style="italic">P</tspan></text></g>
<circle cx="931.5" cy="485.5" r="4.6" fill="#0000ff"/>
<circle cx="931.5" cy="511" r="4.6" fill="#bebebe"/>
<circle cx="931.5" cy="535.5" r="4.6" fill="#ff0000"/>
<text x="963.0" y="496.5" font-size="25">Down</text>
<text x="963.0" y="521.0" font-size="25">NS</text>
<text x="963.0" y="546.0" font-size="25">Up</text>
<path d="M1313.7 211.0V787.3M1462.4 211.0V787.3M1611.2 211.0V787.3M1759.9 211.0V787.3M1210.6 696.8H1863.6M1210.6 565.4H1863.6M1210.6 434.1H1863.6M1210.6 302.7H1863.6" stroke="#efefef" stroke-width="1.7" fill="none"/>
<path d="M1239.3 211.0V787.3M1388.0 211.0V787.3M1536.8 211.0V787.3M1685.5 211.0V787.3M1834.3 211.0V787.3M1210.6 762.5H1863.6M1210.6 631.1H1863.6M1210.6 499.8H1863.6M1210.6 368.4H1863.6M1210.6 237.0H1863.6" stroke="#ebebeb" stroke-width="3" fill="none"/>
<polygon points="1536.8,764.6 1520.4,748.3 1505.6,731.0 1482.7,694.2 1456.5,694.2 1490.7,732.0 1510.0,749.4 1530.8,764.6" fill="#bebebe"/>
<polygon points="1536.8,764.6 1553.2,748.3 1568.0,731.0 1590.9,694.2 1617.1,694.2 1582.9,732.0 1563.6,749.4 1542.8,764.6" fill="#bebebe"/>
<polygon points="1592.1,694.2 1617.7,694.2 1643.9,639.0 1632.0,618.0" fill="#ff0000"/>
<polygon points="1478.8,694.2 1465.4,694.2 1444.6,649.5 1452.0,641.6" fill="#0000ff"/>
<path d="M1615.6 711.5h0M1624.1 711.7h0M1462.8 729.5h0M1611.9 701.2h0M1496.8 743.8h0M1550.4 759.0h0M1448.9 700.2h0M1467.6 707.9h0M1560.0 751.6h0M1569.2 746.2h0M1612.2 703.0h0M1599.6 724.7h0M1450.0 698.6h0M1613.6 701.6h0M1508.3 749.1h0M1491.6 740.2h0M1472.2 715.7h0M1461.8 706.5h0M1476.6 728.5h0M1458.2 696.3h0M1607.7 704.8h0M1586.2 736.0h0M1520.1 756.8h0M1578.7 747.1h0M1617.0 698.5h0M1471.6 725.7h0M1457.5 711.1h0M1576.7 757.5h0M1488.6 737.7h0M1599.6 737.7h0M1578.0 739.5h0M1517.2 754.8h0M1618.0 694.9h0M1450.9 695.6h0M1496.5 744.4h0M1589.5 730.2h0M1461.6 700.2h0M1465.2 705.2h0M1622.6 698.0h0M1563.0 752.9h0M1463.0 704.8h0M1439.9 694.8h0M1590.4 730.3h0M1589.0 728.7h0M1507.3 750.3h0M1623.1 697.3h0M1496.3 737.8h0M1451.8 708.9h0M1456.2 708.7h0M1609.6 716.6h0M1471.4 714.0h0M1460.0 709.7h0M1450.8 698.3h0M1555.2 759.1h0M1470.7 716.1h0M1610.1 717.7h0M1466.0 717.9h0M1593.8 737.1h0M1631.6 715.0h0M1595.0 726.1h0M1441.8 705.4h0M1463.8 714.8h0M1577.9 748.7h0M1601.8 716.5h0M1612.4 709.4h0M1551.3 758.1h0M1475.4 717.5h0M1595.3 718.8h0M1504.8 745.1h0M1496.9 739.2h0M1682.0 698.4h0M1669.8 708.9h0M1652.8 720.5h0M1405.9 710.0h0M1434.2 733.6h0M1447.5 707.3h0M1450.5 717.8h0M1632.0 729.9h0M1643.9 702.1h0" stroke="#bebebe" stroke-width="4.2" stroke-linecap="round" fill="none"/>
<path d="M1408.3 568.1h0M1423.7 591.5h0M1461.3 656.8h0M1421.1 591.9h0M1466.3 667.2h0M1463.4 671.8h0M1467.6 693.4h0M1442.5 638.5h0M1438.4 650.0h0M1458.6 664.5h0M1455.4 650.5h0M1431.1 642.0h0M1469.9 691.6h0M1454.3 674.1h0M1473.3 679.6h0M1473.0 686.3h0M1472.6 683.5h0M1433.8 608.9h0M1427.5 594.3h0M1462.7 667.7h0M1453.9 670.1h0M1437.1 617.7h0M1457.4 652.9h0M1469.2 681.1h0M1450.4 667.9h0M1468.1 678.2h0M1461.6 660.1h0M1433.2 643.1h0M1456.9 650.7h0M1457.2 654.8h0M1457.2 661.1h0M1448.9 666.0h0M1466.0 674.8h0M1466.7 676.9h0M1463.9 669.0h0M1457.7 657.1h0M1453.1 641.6h0M1462.6 686.2h0M1469.0 679.4h0M1465.9 684.5h0M1474.8 686.4h0M1466.7 671.7h0M1458.0 682.7h0M1451.5 669.8h0M1419.9 587.1h0M1445.6 635.9h0M1456.1 689.3h0M1449.2 643.9h0M1425.6 621.5h0M1460.3 666.3h0M1474.5 690.0h0M1439.1 635.2h0M1471.0 688.4h0M1471.1 681.1h0M1436.5 621.7h0M1465.5 669.8h0M1460.8 675.0h0M1473.8 686.8h0M1427.1 612.6h0M1468.6 690.2h0M1457.9 671.0h0M1443.8 646.5h0M1437.4 618.3h0M1458.5 684.1h0M1458.6 681.6h0M1439.6 640.7h0M1459.8 656.5h0M1443.8 637.1h0M1446.1 639.3h0M1462.8 671.4h0M1455.9 670.4h0M1466.9 684.7h0M1459.0 668.2h0M1415.0 592.6h0M1469.2 676.4h0M1465.4 669.7h0M1472.0 686.3h0M1440.6 641.2h0M1440.9 626.2h0M1446.9 638.0h0M1448.7 636.3h0M1460.2 671.9h0M1469.8 678.0h0M1455.3 666.2h0M1471.9 688.5h0M1457.9 665.1h0M1461.6 659.7h0M1446.9 631.3h0M1464.8 682.9h0M1445.5 627.8h0M1431.1 611.9h0M1431.0 613.8h0M1467.1 670.6h0M1455.6 687.1h0M1467.4 680.4h0M1459.8 666.4h0M1431.0 606.4h0M1453.2 661.0h0M1457.3 681.6h0M1423.4 621.6h0M1453.3 649.1h0M1455.3 675.1h0M1477.7 692.1h0M1448.3 647.1h0M1454.8 648.5h0M1402.7 583.1h0M1446.3 632.5h0M1466.5 679.0h0M1453.9 681.2h0M1464.3 669.1h0M1442.3 635.2h0M1452.4 650.4h0M1433.9 621.5h0M1459.0 653.4h0M1471.6 690.1h0M1447.7 639.2h0M1444.6 646.0h0M1446.9 670.1h0M1458.4 685.9h0M1469.1 673.7h0M1450.8 654.9h0M1456.3 690.9h0M1444.5 626.0h0M1458.3 656.3h0M1459.4 663.5h0M1471.1 680.8h0M1455.1 674.6h0M1463.5 691.0h0M1474.4 687.6h0M1462.6 660.2h0M1472.0 676.9h0M1422.1 605.6h0M1463.7 675.8h0M1460.0 680.3h0M1436.3 641.9h0M1471.7 683.3h0M1438.9 648.5h0M1447.5 660.1h0M1468.9 683.5h0M1467.7 678.7h0M1474.1 692.1h0M1454.3 659.9h0M1461.1 660.6h0M1456.7 652.6h0M1444.6 635.9h0M1448.6 645.5h0M1478.2 692.9h0M1461.3 664.5h0M1428.2 616.1h0M1465.3 685.9h0M1440.1 619.3h0M1417.7 580.4h0M1473.4 681.0h0M1457.7 652.6h0M1457.5 655.4h0M1420.8 600.4h0M1470.0 691.6h0M1463.3 662.7h0M1434.1 608.9h0M1443.4 632.4h0M1459.0 682.0h0M1458.8 657.8h0M1431.1 629.5h0M1453.1 652.0h0M1472.4 680.8h0M1477.7 692.1h0M1475.1 689.7h0M1439.7 623.0h0M1410.8 573.2h0M1438.1 623.6h0M1461.0 683.9h0M1434.5 643.9h0M1460.6 667.2h0M1432.8 608.8h0M1445.7 631.4h0M1469.8 679.1h0M1450.8 651.5h0M1411.7 591.6h0M1461.6 674.5h0M1476.1 687.9h0M1428.5 612.4h0M1465.9 676.3h0M1473.0 679.2h0M1460.6 665.2h0M1472.9 688.2h0M1458.9 657.1h0M1407.6 586.9h0M1475.0 689.0h0M1465.3 678.1h0M1475.3 690.7h0M1460.1 664.0h0M1442.0 634.7h0M1465.5 677.0h0M1450.1 645.1h0M1424.5 591.0h0M1466.1 668.9h0M1411.2 577.1h0M1464.9 668.9h0M1473.2 690.9h0M1409.3 579.3h0M1466.3 689.6h0M1471.7 676.7h0M1464.1 664.3h0M1470.6 690.2h0M1405.8 582.7h0M1468.4 686.4h0M1473.9 690.2h0M1460.6 677.8h0M1457.6 661.3h0M1475.5 685.7h0M1457.6 657.7h0M1467.9 683.2h0M1472.0 680.7h0M1473.1 690.2h0M1452.4 656.8h0M1463.2 676.1h0M1449.4 669.6h0M1418.8 583.5h0M1471.9 690.8h0M1415.0 607.3h0M1442.1 644.4h0M1453.8 654.6h0M1458.1 684.5h0M1457.2 682.4h0M1443.4 647.6h0M1470.0 678.3h0M1470.8 682.9h0M1476.0 687.4h0M1439.9 653.1h0M1431.8 604.4h0M1457.2 672.0h0M1451.5 647.5h0M1474.5 691.1h0M1458.1 668.0h0M1409.3 581.5h0M1429.7 615.0h0M1468.4 681.7h0M1433.9 627.5h0M1456.9 656.2h0M1462.0 677.9h0M1464.5 668.5h0M1476.3 688.6h0M1462.3 673.2h0M1461.7 679.8h0M1471.4 682.3h0M1465.7 664.8h0M1476.7 691.4h0M1463.3 666.5h0M1467.8 673.9h0M1457.0 691.6h0M1452.5 653.1h0M1460.2 669.7h0M1462.0 666.0h0M1446.3 632.9h0M1461.5 682.8h0M1443.8 630.5h0M1415.8 571.4h0M1445.0 649.9h0M1474.4 689.0h0M1439.3 624.3h0M1416.7 576.8h0M1457.5 689.4h0M1466.2 665.8h0M1463.7 683.7h0M1410.3 572.1h0M1439.1 616.4h0M1409.0 587.9h0M1472.8 687.0h0M1455.9 653.9h0M1433.5 644.8h0M1458.6 676.1h0M1463.4 673.4h0M1427.9 618.5h0M1447.7 648.2h0M1460.1 687.4h0M1466.4 667.9h0M1460.5 665.9h0M1447.1 645.1h0M1469.0 693.1h0M1464.4 678.2h0M1465.6 670.9h0M1451.7 641.5h0M1454.3 657.1h0M1436.3 622.6h0M1466.7 691.4h0M1460.6 663.9h0M1462.1 662.5h0M1468.9 686.0h0M1459.9 683.4h0M1461.7 691.8h0M1464.1 682.7h0M1454.2 645.3h0M1445.9 636.9h0M1465.5 677.2h0M1444.7 630.0h0M1451.8 669.2h0M1459.2 674.7h0M1469.8 688.7h0M1458.6 682.9h0M1466.1 670.4h0M1385.1 577.0h0M1388.1 583.6h0M1391.1 590.3h0M1394.1 596.9h0M1397.1 603.5h0M1400.1 610.2h0M1403.1 616.8h0M1406.2 623.4h0M1409.2 630.1h0M1397.0 573.3h0M1399.9 581.2h0M1402.9 589.1h0M1405.9 597.0h0M1399.4 537.1h0M1395.5 541.8h0M1381.2 507.1h0M1361.3 454.0h0M1298.8 336.8h0M1267.6 310.6h0M1264.6 304.3h0M1258.6 257.0h0M1391.0 568.1h0M1290.2 511.8h0M1298.8 528.7h0M1300.0 532.3h0M1302.7 538.1h0M1308.6 550.2h0M1315.2 564.4h0M1317.5 569.6h0M1324.7 584.9h0M1333.9 602.2h0M1341.6 616.4h0M1346.1 624.3h0M1351.5 632.7h0M1357.4 642.2h0M1364.2 652.1h0M1371.4 663.7h0M1380.0 675.8h0M1392.5 688.9h0" stroke="#0000ff" stroke-width="4.7" stroke-linecap="round" fill="none"/>
<path d="M1607.1 682.9h0M1617.4 646.4h0M1639.4 680.1h0M1601.2 677.4h0M1624.4 687.6h0M1617.3 646.2h0M1631.5 654.3h0M1647.3 608.5h0M1638.9 610.0h0M1618.2 648.4h0M1713.4 536.3h0M1656.5 581.9h0M1599.9 688.0h0M1657.9 644.1h0M1605.6 670.1h0M1644.0 669.8h0M1658.3 571.3h0M1634.5 659.4h0M1640.4 674.5h0M1609.0 661.3h0M1620.3 645.1h0M1652.7 606.1h0M1625.5 655.7h0M1606.3 679.6h0M1635.8 685.3h0M1620.3 661.5h0M1644.8 647.4h0M1612.1 675.8h0M1612.9 673.2h0M1632.0 671.3h0M1614.4 649.1h0M1700.1 569.7h0M1613.5 654.3h0M1640.5 650.9h0M1624.2 643.7h0M1632.7 668.8h0M1600.2 682.7h0M1667.1 603.3h0M1610.5 665.3h0M1616.4 686.0h0M1614.5 653.9h0M1642.9 649.7h0M1601.9 690.1h0M1633.4 639.3h0M1667.5 629.6h0M1623.0 691.2h0M1612.8 681.3h0M1601.1 686.4h0M1665.0 568.8h0M1603.6 684.9h0M1597.1 691.4h0M1597.3 690.7h0M1668.8 626.0h0M1609.4 674.8h0M1647.6 660.1h0M1624.2 634.0h0M1626.3 643.8h0M1622.1 645.2h0M1612.2 653.6h0M1607.7 686.5h0M1633.4 670.5h0M1631.1 640.5h0M1627.9 638.6h0M1639.4 680.1h0M1609.4 661.0h0M1626.8 629.2h0M1635.8 685.5h0M1634.5 687.5h0M1648.5 639.1h0M1613.3 671.8h0M1608.1 673.4h0M1626.2 686.3h0M1643.9 641.5h0M1617.5 657.3h0M1641.1 651.1h0M1596.8 692.0h0M1631.7 691.6h0M1595.4 693.6h0M1659.3 583.6h0M1600.3 688.4h0M1611.4 685.0h0M1609.5 685.4h0M1602.6 677.4h0M1615.2 660.8h0M1672.2 564.7h0M1625.1 637.7h0M1670.1 548.5h0M1647.4 637.6h0M1604.1 684.8h0M1596.5 689.6h0M1611.2 671.0h0M1653.9 627.9h0M1607.7 684.8h0M1636.3 641.8h0M1595.4 693.3h0M1603.7 691.4h0M1613.4 657.1h0M1654.6 579.3h0M1663.2 556.6h0M1608.2 668.4h0M1601.4 678.9h0M1633.4 691.7h0M1607.1 683.8h0M1601.9 689.3h0M1606.8 688.0h0M1648.7 596.6h0M1605.6 692.8h0M1605.5 670.1h0M1666.1 629.1h0M1646.7 606.2h0M1609.5 687.5h0M1644.5 608.2h0M1596.9 686.7h0M1610.3 665.7h0M1600.9 679.6h0M1601.4 682.5h0M1611.2 670.3h0M1631.3 624.0h0M1652.7 580.6h0M1633.8 664.5h0M1659.8 640.5h0M1627.2 678.1h0M1609.7 669.6h0M1629.2 678.5h0M1602.3 676.9h0M1605.6 692.3h0M1610.7 686.7h0M1632.3 646.4h0M1607.2 665.7h0M1642.3 649.8h0M1630.3 628.9h0M1624.2 632.0h0M1693.0 554.4h0M1662.4 570.6h0M1609.1 665.2h0M1650.8 655.7h0M1618.2 648.4h0M1632.6 691.0h0M1612.7 692.0h0M1607.2 668.8h0M1608.8 677.5h0M1630.7 624.2h0M1620.6 672.0h0M1643.5 599.0h0M1610.5 668.1h0M1603.5 691.7h0M1624.9 688.5h0M1636.7 614.0h0M1661.2 636.3h0M1615.7 670.1h0M1613.7 657.9h0M1610.5 674.6h0M1616.0 675.0h0M1644.3 668.2h0M1677.1 609.3h0M1638.0 655.2h0M1608.7 671.2h0M1611.1 677.0h0M1608.9 689.1h0M1630.9 631.1h0M1661.7 561.5h0M1655.6 623.8h0M1713.2 536.7h0M1641.9 626.7h0M1604.2 682.0h0M1615.8 654.5h0M1599.3 693.5h0M1695.8 578.9h0M1626.2 646.2h0M1641.7 653.4h0M1643.3 670.3h0M1608.2 678.1h0M1662.5 580.1h0M1610.7 681.0h0M1642.6 652.0h0M1616.0 666.7h0M1652.4 656.1h0M1657.5 647.2h0M1607.0 683.3h0M1622.6 647.5h0M1606.7 683.1h0M1636.0 628.5h0M1638.2 660.6h0M1643.8 598.8h0M1665.9 563.2h0M1624.7 661.3h0M1602.8 682.9h0M1618.6 645.9h0M1657.4 622.8h0M1663.7 631.3h0M1676.3 536.7h0M1597.0 688.2h0M1612.0 682.1h0M1630.1 625.8h0M1608.7 667.9h0M1617.8 648.3h0M1641.7 636.2h0M1622.9 689.9h0M1631.9 629.9h0M1632.9 671.8h0M1660.6 568.6h0M1651.6 634.1h0M1622.4 650.9h0M1625.3 657.1h0M1608.0 666.4h0M1603.9 677.9h0M1646.4 661.2h0M1664.7 558.0h0M1634.0 671.7h0M1604.4 671.3h0M1608.2 679.2h0M1602.1 690.9h0M1613.3 664.5h0M1699.7 539.1h0M1622.1 658.3h0M1616.5 665.2h0M1655.3 577.5h0M1622.1 692.5h0M1645.5 667.0h0M1641.5 669.9h0M1670.7 623.2h0M1646.2 666.3h0M1600.5 681.5h0M1631.0 676.8h0M1600.0 687.1h0M1643.5 669.7h0M1665.9 585.5h0M1676.7 532.0h0M1615.4 686.3h0M1604.4 692.1h0M1606.8 665.7h0M1639.0 619.2h0M1652.0 657.2h0M1600.0 687.8h0M1616.1 670.2h0M1680.1 525.1h0M1626.9 651.7h0M1601.0 686.5h0M1624.0 632.6h0M1619.0 658.6h0M1635.1 615.1h0M1604.9 669.4h0M1606.5 692.6h0M1663.7 564.5h0M1642.0 656.0h0M1610.3 675.7h0M1675.6 559.5h0M1615.6 656.1h0M1675.5 564.7h0M1602.4 686.2h0M1612.0 659.6h0M1604.5 690.6h0M1610.1 672.8h0M1629.1 677.6h0M1632.4 626.2h0M1616.0 669.1h0M1607.0 679.6h0M1659.0 580.0h0M1597.7 686.3h0M1605.2 693.2h0M1639.0 606.9h0M1616.0 649.3h0M1629.1 629.9h0M1672.0 545.1h0M1623.7 690.4h0M1609.7 662.9h0M1680.7 582.5h0M1645.9 601.0h0M1628.0 623.5h0M1628.8 622.8h0M1657.1 577.7h0M1639.8 678.4h0M1601.1 682.2h0M1609.3 666.0h0M1624.7 641.2h0M1629.0 635.6h0M1655.4 651.1h0M1614.9 659.7h0M1658.0 578.6h0M1658.7 617.1h0M1602.1 676.3h0M1658.7 583.6h0M1620.8 644.1h0M1630.9 620.3h0M1602.7 688.2h0M1632.5 691.1h0M1605.9 669.5h0M1612.6 667.5h0M1597.8 688.6h0M1654.6 591.9h0M1616.7 675.8h0M1657.6 580.5h0M1596.4 688.2h0M1614.9 652.1h0M1615.9 688.0h0M1616.9 662.3h0M1633.2 620.6h0M1612.6 654.6h0M1610.2 677.8h0M1600.6 681.9h0M1671.3 568.7h0M1629.0 674.0h0M1630.9 656.1h0M1615.1 662.3h0M1665.1 569.0h0M1626.7 625.6h0M1636.1 661.9h0M1626.7 682.3h0M1629.9 628.5h0M1597.9 684.5h0M1610.6 664.1h0M1626.3 633.8h0M1615.5 650.3h0M1626.6 630.0h0M1639.7 621.5h0M1647.1 660.2h0M1667.4 567.9h0M1612.7 686.5h0M1645.6 666.9h0M1657.7 623.0h0M1631.6 693.6h0M1635.0 639.6h0M1666.7 602.9h0M1639.8 658.5h0M1644.7 646.1h0M1623.0 693.6h0M1659.6 620.0h0M1611.6 661.1h0M1637.9 682.4h0M1643.3 605.5h0M1605.8 669.4h0M1600.9 693.2h0M1640.7 650.2h0M1630.3 675.4h0M1604.8 670.4h0M1630.7 635.8h0M1629.1 678.6h0M1622.5 692.9h0M1611.1 688.0h0M1614.6 661.3h0M1622.6 692.4h0M1651.4 603.8h0M1651.9 630.8h0M1690.6 585.9h0M1601.0 682.4h0M1607.7 670.6h0M1606.1 681.2h0M1628.4 628.5h0M1637.5 684.6h0M1607.6 681.4h0M1617.2 663.7h0M1657.9 620.8h0M1672.1 595.4h0M1683.5 569.3h0M1616.1 666.8h0M1639.1 631.2h0M1598.5 683.1h0M1643.1 620.4h0M1639.1 655.6h0M1618.1 647.2h0M1602.2 685.9h0M1606.6 666.0h0M1610.0 693.4h0M1640.9 674.0h0M1598.6 689.5h0M1643.2 647.7h0M1634.3 661.2h0M1621.3 646.9h0M1613.4 684.3h0M1605.7 680.6h0M1642.2 609.0h0M1620.6 639.0h0M1623.3 688.7h0M1671.8 596.7h0M1631.4 675.2h0M1603.1 689.4h0M1667.7 570.0h0M1611.0 662.0h0M1600.6 685.5h0M1621.0 637.6h0M1608.2 676.5h0M1621.1 676.4h0M1642.8 672.5h0M1627.8 682.0h0M1613.1 662.7h0M1627.0 635.8h0M1647.1 591.1h0M1629.9 678.3h0M1627.0 658.8h0M1613.9 651.6h0M1626.3 640.3h0M1602.1 686.6h0M1655.7 588.3h0M1623.4 649.1h0M1636.1 664.2h0M1669.7 623.4h0M1600.3 690.2h0M1623.7 640.3h0M1614.5 663.2h0M1640.0 658.0h0M1643.4 601.6h0M1613.0 661.5h0M1622.7 644.7h0M1672.5 617.2h0M1683.5 553.0h0M1621.9 686.7h0M1625.9 628.8h0M1645.1 667.2h0M1612.5 668.0h0M1622.1 646.2h0M1606.8 676.8h0M1611.9 679.7h0M1626.3 650.2h0M1611.1 675.4h0M1618.0 646.4h0M1610.7 659.1h0M1615.2 656.4h0M1658.5 616.2h0M1611.9 663.3h0M1606.3 675.0h0M1609.8 690.3h0M1686.7 567.4h0M1634.7 617.5h0M1601.3 690.3h0M1631.8 630.1h0M1669.9 599.1h0M1654.7 628.4h0M1610.8 669.5h0M1601.9 677.1h0M1606.4 687.3h0M1610.1 679.5h0M1667.3 603.1h0M1620.5 648.9h0M1645.8 643.4h0M1633.0 615.6h0M1614.9 649.8h0M1594.5 693.4h0M1625.1 639.2h0M1630.2 677.1h0M1615.9 687.3h0M1648.6 632.7h0M1645.0 644.1h0M1606.4 689.5h0M1624.5 688.7h0M1620.3 672.4h0M1604.3 675.7h0M1617.9 647.2h0M1615.0 661.9h0M1628.3 642.0h0M1602.4 682.8h0M1668.4 561.6h0M1594.4 692.1h0M1600.7 684.9h0M1631.6 672.0h0M1617.3 644.7h0M1658.9 581.2h0M1605.5 678.8h0M1647.7 638.8h0M1611.5 661.3h0M1637.7 646.3h0M1637.3 658.5h0M1616.0 670.8h0M1645.6 646.1h0M1650.6 632.0h0M1601.9 680.6h0M1630.0 623.6h0M1611.9 659.8h0M1645.4 662.1h0M1615.0 664.4h0M1665.2 631.2h0M1623.0 689.3h0M1659.3 615.9h0M1607.6 685.7h0M1700.2 534.9h0M1655.6 605.7h0M1696.2 547.9h0M1629.5 673.4h0M1658.5 643.0h0M1664.2 631.1h0M1619.0 640.2h0M1633.0 691.1h0M1604.1 691.5h0M1665.7 561.8h0M1630.3 679.9h0M1653.9 651.7h0M1601.7 678.7h0M1598.2 693.7h0M1671.8 620.6h0M1607.1 671.8h0M1620.8 661.1h0M1620.4 656.6h0M1608.5 688.1h0M1634.7 621.2h0M1672.4 547.7h0M1658.7 581.0h0M1652.1 630.8h0M1638.7 610.5h0M1698.3 573.9h0M1635.3 685.6h0M1598.1 689.4h0M1618.6 657.0h0M1628.7 661.5h0M1634.4 618.6h0M1638.7 680.1h0M1622.2 645.2h0M1622.5 656.9h0M1603.9 685.7h0M1622.9 693.1h0M1607.2 673.1h0M1628.6 681.9h0M1625.0 660.7h0M1623.1 650.6h0M1639.6 631.3h0M1632.6 639.2h0M1634.0 666.0h0M1603.1 680.3h0M1628.5 656.8h0M1659.7 578.3h0M1648.4 617.2h0M1646.9 660.8h0M1639.5 676.0h0M1682.9 603.1h0M1627.3 628.9h0M1685.5 574.2h0M1597.6 691.7h0M1604.0 680.9h0M1622.8 670.4h0M1644.4 648.3h0M1665.0 559.0h0M1626.5 682.8h0M1641.8 623.9h0M1608.7 665.8h0M1620.7 681.3h0M1673.5 543.9h0M1607.9 667.1h0M1635.6 684.3h0M1666.9 561.8h0M1618.8 642.8h0M1610.0 676.0h0M1636.5 660.3h0M1645.6 661.7h0M1667.3 560.5h0M1642.3 649.2h0M1611.8 666.7h0M1621.9 692.6h0M1600.2 692.3h0M1632.1 638.1h0M1684.2 574.8h0M1638.5 681.3h0M1628.3 642.1h0M1651.3 583.9h0M1643.3 604.5h0M1643.7 645.6h0M1642.2 673.6h0M1630.6 640.2h0M1605.6 678.5h0M1616.3 687.9h0M1642.4 645.2h0M1617.9 659.4h0M1630.1 622.4h0M1633.8 687.1h0M1614.4 654.1h0M1623.3 650.8h0M1614.1 672.2h0M1664.3 609.3h0M1623.9 686.6h0M1627.1 681.5h0M1600.4 693.6h0M1638.7 615.7h0M1626.0 628.1h0M1615.1 650.3h0M1658.0 647.0h0M1622.4 647.4h0M1615.9 667.5h0M1626.0 636.4h0M1632.3 671.5h0M1621.6 640.4h0M1630.9 672.1h0M1622.0 636.9h0M1639.5 655.3h0M1651.6 588.2h0M1673.2 557.0h0M1627.2 639.1h0M1605.5 669.0h0M1623.7 636.2h0M1636.7 683.1h0M1637.3 659.2h0M1643.4 670.7h0M1638.2 683.0h0M1627.8 678.2h0M1656.8 576.1h0M1684.0 537.1h0M1599.2 685.6h0M1595.6 693.6h0M1610.7 678.8h0M1625.2 637.5h0M1616.6 650.1h0M1628.5 642.9h0M1650.5 607.2h0M1650.6 604.0h0M1660.0 581.6h0M1615.4 670.1h0M1656.4 621.4h0M1642.9 671.1h0M1632.6 662.6h0M1600.2 683.9h0M1638.6 628.3h0M1603.2 677.7h0M1607.9 682.3h0M1654.2 581.4h0M1659.7 569.9h0M1641.4 674.7h0M1634.1 671.2h0M1600.3 683.5h0M1600.5 684.5h0M1625.1 636.8h0M1604.3 676.5h0M1610.4 664.8h0M1611.7 656.7h0M1683.8 596.9h0M1655.5 574.4h0M1668.9 542.8h0M1670.7 547.0h0M1673.6 536.5h0M1687.3 508.7h0M1685.5 512.9h0M1696.6 483.5h0M1716.5 428.3h0M1740.0 406.7h0M1756.1 397.8h0M1771.8 396.2h0M1762.0 366.8h0M1792.9 342.6h0M1794.1 345.8h0M1786.4 307.4h0M1791.2 268.5h0M1807.8 256.4h0M1830.7 251.7h0M1738.8 440.4h0M1748.6 450.9h0M1718.3 470.3h0M1724.2 468.2h0M1721.2 476.6h0M1704.6 505.0h0M1722.1 512.4h0M1701.9 557.6h0M1700.4 553.4h0M1691.5 526.0h0M1698.9 520.8h0M1703.4 514.5h0M1688.5 536.5h0M1682.6 549.7h0M1685.5 578.6h0M1676.6 523.4h0M1678.1 531.3h0M1690.0 688.9h0M1693.0 684.6h0M1696.6 679.3h0M1700.1 674.0h0M1703.4 669.2h0M1706.8 664.2h0M1709.9 659.6h0M1713.6 654.1h0M1717.5 648.4h0M1721.2 642.9h0M1725.1 637.1h0M1728.8 631.7h0M1732.8 625.8h0M1736.8 619.8h0M1741.0 613.7h0M1744.8 608.0h0M1748.8 602.2h0M1752.4 596.8h0M1755.9 590.4h0M1758.6 584.9h0M1761.7 578.7h0M1764.8 572.5h0M1768.4 565.3h0M1772.8 556.6h0M1777.0 548.2h0M1780.0 542.1h0M1784.7 532.7h0M1789.4 523.3h0M1795.6 511.0h0M1812.6 474.5h0M1810.5 479.8h0M1824.5 448.3h0M1804.5 493.4h0" stroke="#ff0000" stroke-width="4.7" stroke-linecap="round" fill="none"/>
<path d="M1492.2 211.0V787.3M1581.4 211.0V787.3M1210.6 694.1H1863.6" stroke="#222" stroke-width="1" stroke-dasharray="7 2.5 1.5 2.5" fill="none"/>
<path d="M1496.9 717.5L1481.4 704.9M1489.3 706.4L1481.4 704.9L1484.5 712.3" stroke="#000" stroke-width="2" fill="none" stroke-linecap="round" stroke-linejoin="round"/>
<path d="M1500.5 715.5L1485.0 702.9M1492.9 704.4L1485.0 702.9L1488.1 710.3" stroke="#000" stroke-width="2" fill="none" stroke-linecap="round" stroke-linejoin="round"/>
<path d="M1493.5 719.5L1478.5 707.0M1486.3 708.6L1478.5 707.0L1481.5 714.4" stroke="#000" stroke-width="2" fill="none" stroke-linecap="round" stroke-linejoin="round"/>
<path d="M1538.5 725.2L1550.1 705.9M1549.7 713.9L1550.1 705.9L1543.2 710.0" stroke="#000" stroke-width="2" fill="none" stroke-linecap="round" stroke-linejoin="round"/>
<path d="M1524.0 755.5L1516.2 745.6M1523.5 748.8L1516.2 745.6L1517.6 753.5" stroke="#000" stroke-width="2" fill="none" stroke-linecap="round" stroke-linejoin="round"/>
<path d="M1530.0 755.5L1527.5 745.6M1532.9 751.5L1527.5 745.6L1525.6 753.4" stroke="#000" stroke-width="2" fill="none" stroke-linecap="round" stroke-linejoin="round"/>
<path d="M1527.8 756.2L1514.3 766.9M1517.5 759.6L1514.3 766.9L1522.2 765.5" stroke="#000" stroke-width="2" fill="none" stroke-linecap="round" stroke-linejoin="round"/>
<path d="M1543.3 756.2L1565.6 736.9M1562.7 744.4L1565.6 736.9L1557.8 738.7" stroke="#000" stroke-width="2" fill="none" stroke-linecap="round" stroke-linejoin="round"/>
<path d="M1527.8 754.3L1549.2 768.8M1541.2 767.9L1549.2 768.8L1545.5 761.7" stroke="#000" stroke-width="2" fill="none" stroke-linecap="round" stroke-linejoin="round"/>
<path d="M1606.3 768.8L1617.9 768.8M1610.8 772.6L1617.9 768.8L1610.8 765.0" stroke="#000" stroke-width="2" fill="none" stroke-linecap="round" stroke-linejoin="round"/>
<path d="M1463.9 661.3L1452.3 651.6M1460.1 653.2L1452.3 651.6L1455.3 659.0" stroke="#000" stroke-width="2" fill="none" stroke-linecap="round" stroke-linejoin="round"/>
<path d="M1381.3 579.3L1389.8 571.5M1387.1 579.0L1389.8 571.5L1382.1 573.5" stroke="#000" stroke-width="2" fill="none" stroke-linecap="round" stroke-linejoin="round"/>
<path d="M1334.6 603.0L1334.6 613.0M1330.8 605.9L1334.6 613.0L1338.4 605.9" stroke="#000" stroke-width="2" fill="none" stroke-linecap="round" stroke-linejoin="round"/>
<rect x="1377.9" y="543.8" width="59.5" height="27.7" rx="3.5" fill="#f7f5a3" stroke="#77762e" stroke-width="1.5"/>
<text x="1407.7" y="564.0" font-size="18" font-weight="bold" text-anchor="middle" fill="#4c4b00" textLength="47.5" lengthAdjust="spacingAndGlyphs">DLX4</text>
<rect x="1286.4" y="611.9" width="45.9" height="26.8" rx="3.5" fill="#f7f5a3" stroke="#77762e" stroke-width="1.5"/>
<text x="1309.3" y="631.7" font-size="18" font-weight="bold" text-anchor="middle" fill="#4c4b00" textLength="33.9" lengthAdjust="spacingAndGlyphs">SP7</text>
<rect x="1389.4" y="640.0" width="62.1" height="26.4" rx="3.5" fill="#ffffff" stroke="#2b2b2b" stroke-width="1.5"/>
<text x="1420.5" y="659.6" font-size="18" font-weight="bold" text-anchor="middle" fill="#000000" textLength="50.1" lengthAdjust="spacingAndGlyphs">MSX2</text>
<rect x="1423.4" y="677.9" width="82.1" height="26.8" rx="3.5" fill="#ffffff" stroke="#2b2b2b" stroke-width="1.5"/>
<text x="1464.5" y="697.7" font-size="18" font-weight="bold" text-anchor="middle" fill="#000000" textLength="70.1" lengthAdjust="spacingAndGlyphs">TWIST2</text>
<rect x="1518.3" y="677.9" width="71.1" height="26.8" rx="3.5" fill="#ffffff" stroke="#2b2b2b" stroke-width="1.5"/>
<text x="1553.8" y="697.7" font-size="18" font-weight="bold" text-anchor="middle" fill="#000000" textLength="59.1" lengthAdjust="spacingAndGlyphs">SATB2</text>
<rect x="1479.2" y="716.6" width="58.3" height="26.4" rx="3.5" fill="#ffffff" stroke="#2b2b2b" stroke-width="1.5"/>
<text x="1508.3" y="736.2" font-size="18" font-weight="bold" text-anchor="middle" fill="#000000" textLength="46.3" lengthAdjust="spacingAndGlyphs">DLX5</text>
<rect x="1566.0" y="716.6" width="75.7" height="26.4" rx="3.5" fill="#ffffff" stroke="#2b2b2b" stroke-width="1.5"/>
<text x="1603.8" y="736.2" font-size="18" font-weight="bold" text-anchor="middle" fill="#000000" textLength="63.7" lengthAdjust="spacingAndGlyphs">RUNX2</text>
<rect x="1422.6" y="755.8" width="90.2" height="26.8" rx="3.5" fill="#ffffff" stroke="#2b2b2b" stroke-width="1.5"/>
<text x="1467.7" y="775.6" font-size="18" font-weight="bold" text-anchor="middle" fill="#000000" textLength="78.2" lengthAdjust="spacingAndGlyphs">CTNNB1</text>
<rect x="1551.1" y="755.8" width="55.7" height="26.8" rx="3.5" fill="#ffffff" stroke="#2b2b2b" stroke-width="1.5"/>
<text x="1578.9" y="775.6" font-size="18" font-weight="bold" text-anchor="middle" fill="#000000" textLength="43.7" lengthAdjust="spacingAndGlyphs">ATF4</text>
<rect x="1618.3" y="755.8" width="81.7" height="26.8" rx="3.5" fill="#ffffff" stroke="#2b2b2b" stroke-width="1.5"/>
<text x="1659.2" y="775.6" font-size="18" font-weight="bold" text-anchor="middle" fill="#000000" textLength="69.7" lengthAdjust="spacingAndGlyphs">TWIST1</text>
<path d="M1210.6 211.0V788.5999999999999M1209.3 787.3H1863.6" stroke="#1a1a1a" stroke-width="2.9" fill="none"/>
<path d="M1239.3 787.3v9M1388.0 787.3v9M1536.8 787.3v9M1685.5 787.3v9M1834.3 787.3v9M1210.6 762.5h-10.5M1210.6 631.1h-10.5M1210.6 499.8h-10.5M1210.6 368.4h-10.5M1210.6 237.0h-10.5" stroke="#1a1a1a" stroke-width="3.2" fill="none"/>
<text x="1239.3" y="832.5" font-size="29.2" text-anchor="middle" fill="#4d4d4d">-10</text>
<text x="1388.0" y="832.5" font-size="29.2" text-anchor="middle" fill="#4d4d4d">-5</text>
<text x="1536.8" y="832.5" font-size="29.2" text-anchor="middle" fill="#4d4d4d">0</text>
<text x="1685.5" y="832.5" font-size="29.2" text-anchor="middle" fill="#4d4d4d">5</text>
<text x="1834.3" y="832.5" font-size="29.2" text-anchor="middle" fill="#4d4d4d">10</text>
<text x="1191.0" y="774.4" font-size="29.2" text-anchor="end" fill="#4d4d4d">0.0</text>
<text x="1191.0" y="643.0" font-size="29.2" text-anchor="end" fill="#4d4d4d">2.5</text>
<text x="1191.0" y="511.6" font-size="29.2" text-anchor="end" fill="#4d4d4d">5.0</text>
<text x="1191.0" y="380.3" font-size="29.2" text-anchor="end" fill="#4d4d4d">7.5</text>
<text x="1191.0" y="248.9" font-size="29.2" text-anchor="end" fill="#4d4d4d">10.0</text>
<text x="1211.6" y="141.0" font-size="29.5" font-weight="bold" textLength="198.5" lengthAdjust="spacingAndGlyphs">l-OM (x h-OM)</text>
<text x="1211.6" y="186.0" font-size="23.5" font-style="italic" textLength="233.7" lengthAdjust="spacing">EnhancedVolcano</text>
<text x="1863.6" y="892.0" font-size="23.7" text-anchor="end" textLength="239.5" lengthAdjust="spacingAndGlyphs">total = 23740 variables</text>
<g transform="translate(1112.2,495.5) rotate(-90)"><text x="0" y="0" font-size="31.5" text-anchor="middle">−Log<tspan font-size="21" dy="6">10</tspan><tspan dy="-6"> </tspan><tspan font-style="italic">P</tspan></text></g>
<text x="52.0" y="1004.5" font-size="44" font-weight="bold" textLength="23.6" lengthAdjust="spacingAndGlyphs">B</text>
<text x="229.5" y="1110.4" font-size="36" text-anchor="middle" fill="#333" textLength="180.0" lengthAdjust="spacingAndGlyphs">TGFβ/BMP</text>
<rect x="125.9" y="1154.6" width="94.6" height="24.1" fill="#fff1eb"/><rect x="222.7" y="1154.1" width="100.6" height="25.1" fill="#ff6d4c"/>
<text transform="translate(333.6,1178.0) scale(1.128,1)" font-size="24.5" font-style="italic" fill="#111" stroke="#111" stroke-width="0.35">SMAD9</text>
<rect x="125.9" y="1181.9" width="94.6" height="24.1" fill="#fff3ef"/><rect x="222.7" y="1181.4" width="100.6" height="25.1" fill="#ff8464"/>
<text transform="translate(333.6,1205.3) scale(1.128,1)" font-size="24.5" font-style="italic" fill="#111" stroke="#111" stroke-width="0.35">MAP2K6</text>
<rect x="121.9" y="1208.7" width="98.6" height="25.1" fill="#ff7e5e"/><rect x="222.7" y="1209.2" width="97.1" height="24.1" fill="#ffd4c5"/>
<text transform="translate(333.6,1232.6) scale(1.128,1)" font-size="24.5" font-style="italic" fill="#111" stroke="#111" stroke-width="0.35">FOS</text>
<rect x="125.9" y="1236.4" width="94.6" height="24.1" fill="#ffd9cb"/><rect x="222.7" y="1236.4" width="97.1" height="24.1" fill="#ffbca6"/>
<text transform="translate(333.6,1259.9) scale(1.128,1)" font-size="24.5" font-style="italic" fill="#111" stroke="#111" stroke-width="0.35">EP300</text>
<rect x="125.9" y="1263.7" width="94.6" height="24.1" fill="#ffe2d8"/><rect x="222.7" y="1263.7" width="97.1" height="24.1" fill="#ffd4c5"/>
<text transform="translate(333.6,1287.1) scale(1.128,1)" font-size="24.5" font-style="italic" fill="#111" stroke="#111" stroke-width="0.35">CREBBP</text>
<rect x="125.9" y="1291.0" width="94.6" height="24.1" fill="#ffe5db"/><rect x="222.7" y="1291.0" width="97.1" height="24.1" fill="#fff8f5"/>
<text transform="translate(333.6,1314.4) scale(1.128,1)" font-size="24.5" font-style="italic" fill="#111" stroke="#111" stroke-width="0.35">TGFBR2</text>
<rect x="125.9" y="1318.3" width="94.6" height="24.1" fill="#ffeee8"/><rect x="222.7" y="1318.3" width="97.1" height="24.1" fill="#fffaf8"/>
<text transform="translate(333.6,1341.7) scale(1.128,1)" font-size="24.5" font-style="italic" fill="#111" stroke="#111" stroke-width="0.35">TAB1</text>
<rect x="125.9" y="1345.5" width="94.6" height="24.1" fill="#fff5f2"/><rect x="222.7" y="1345.5" width="97.1" height="24.1" fill="#ffece5"/>
<text transform="translate(333.6,1369.0) scale(1.128,1)" font-size="24.5" font-style="italic" fill="#111" stroke="#111" stroke-width="0.35">SMAD3</text>
<rect x="125.9" y="1372.8" width="94.6" height="24.1" fill="#ffffff"/><rect x="222.7" y="1372.8" width="97.1" height="24.1" fill="#ffe7de"/>
<text transform="translate(333.6,1396.2) scale(1.128,1)" font-size="24.5" font-style="italic" fill="#111" stroke="#111" stroke-width="0.35">SMAD5</text>
<rect x="125.9" y="1400.1" width="94.6" height="24.1" fill="#ffffff"/><rect x="222.7" y="1400.1" width="97.1" height="24.1" fill="#ffeae2"/>
<text transform="translate(333.6,1423.5) scale(1.128,1)" font-size="24.5" font-style="italic" fill="#111" stroke="#111" stroke-width="0.35">BMPR2</text>
<rect x="125.9" y="1427.4" width="94.6" height="24.1" fill="#fdfefe"/><rect x="222.7" y="1427.4" width="97.1" height="24.1" fill="#ffece5"/>
<text transform="translate(333.6,1450.8) scale(1.128,1)" font-size="24.5" font-style="italic" fill="#111" stroke="#111" stroke-width="0.35">MAP2K4</text>
<rect x="125.9" y="1454.6" width="94.6" height="24.1" fill="#fcfdfe"/><rect x="222.7" y="1454.6" width="97.1" height="24.1" fill="#ffeee8"/>
<text transform="translate(333.6,1478.1) scale(1.128,1)" font-size="24.5" font-style="italic" fill="#111" stroke="#111" stroke-width="0.35">SMAD1</text>
<rect x="125.9" y="1481.9" width="94.6" height="24.1" fill="#f9fcfd"/><rect x="222.7" y="1481.9" width="97.1" height="24.1" fill="#ffece5"/>
<text transform="translate(333.6,1505.3) scale(1.128,1)" font-size="24.5" font-style="italic" fill="#111" stroke="#111" stroke-width="0.35">BMPR1A</text>
<rect x="125.9" y="1509.2" width="94.6" height="24.1" fill="#f9fcfd"/><rect x="222.7" y="1509.2" width="97.1" height="24.1" fill="#ffeee8"/>
<text transform="translate(333.6,1532.6) scale(1.128,1)" font-size="24.5" font-style="italic" fill="#111" stroke="#111" stroke-width="0.35">MAPK14</text>
<rect x="125.9" y="1536.5" width="94.6" height="24.1" fill="#fdfefe"/><rect x="222.7" y="1536.5" width="97.1" height="24.1" fill="#fff9f7"/>
<text transform="translate(333.6,1559.9) scale(1.128,1)" font-size="24.5" font-style="italic" fill="#111" stroke="#111" stroke-width="0.35">SMURF1</text>
<rect x="125.9" y="1563.7" width="94.6" height="24.1" fill="#fefeff"/><rect x="222.7" y="1563.7" width="97.1" height="24.1" fill="#fffdfc"/>
<text transform="translate(333.6,1587.2) scale(1.128,1)" font-size="24.5" font-style="italic" fill="#111" stroke="#111" stroke-width="0.35">SMAD4</text>
<rect x="125.9" y="1591.0" width="94.6" height="24.1" fill="#fcfdfe"/><rect x="222.7" y="1591.0" width="97.1" height="24.1" fill="#ffffff"/>
<text transform="translate(333.6,1614.4) scale(1.128,1)" font-size="24.5" font-style="italic" fill="#111" stroke="#111" stroke-width="0.35">MAPK3</text>
<rect x="125.9" y="1618.3" width="94.6" height="24.1" fill="#f7fbfc"/><rect x="222.7" y="1618.3" width="97.1" height="24.1" fill="#fdfefe"/>
<text transform="translate(333.6,1641.7) scale(1.128,1)" font-size="24.5" font-style="italic" fill="#111" stroke="#111" stroke-width="0.35">MAPK9</text>
<rect x="125.9" y="1645.6" width="94.6" height="24.1" fill="#ffece5"/><rect x="222.7" y="1645.6" width="97.1" height="24.1" fill="#f9fcfd"/>
<text transform="translate(333.6,1669.0) scale(1.128,1)" font-size="24.5" font-style="italic" fill="#111" stroke="#111" stroke-width="0.35">MAP2K7</text>
<rect x="125.9" y="1672.8" width="94.6" height="24.1" fill="#ffeee8"/><rect x="222.7" y="1672.8" width="97.1" height="24.1" fill="#f9fcfd"/>
<text transform="translate(333.6,1696.3) scale(1.128,1)" font-size="24.5" font-style="italic" fill="#111" stroke="#111" stroke-width="0.35">JUN</text>
<rect x="125.9" y="1700.1" width="94.6" height="24.1" fill="#ffffff"/><rect x="222.7" y="1700.1" width="97.1" height="24.1" fill="#f9fcfd"/>
<text transform="translate(333.6,1723.5) scale(1.128,1)" font-size="24.5" font-style="italic" fill="#111" stroke="#111" stroke-width="0.35">ELK1</text>
<rect x="125.9" y="1727.4" width="94.6" height="24.1" fill="#ffffff"/><rect x="222.7" y="1727.4" width="97.1" height="24.1" fill="#f9fcfd"/>
<text transform="translate(333.6,1750.8) scale(1.128,1)" font-size="24.5" font-style="italic" fill="#111" stroke="#111" stroke-width="0.35">SMAD2</text>
<rect x="125.9" y="1754.7" width="94.6" height="24.1" fill="#fefeff"/><rect x="222.7" y="1754.7" width="97.1" height="24.1" fill="#fafdfd"/>
<text transform="translate(333.6,1778.1) scale(1.128,1)" font-size="24.5" font-style="italic" fill="#111" stroke="#111" stroke-width="0.35">MAPK1</text>
<rect x="125.9" y="1781.9" width="94.6" height="24.1" fill="#fefeff"/><rect x="222.7" y="1781.9" width="97.1" height="24.1" fill="#f3f9fb"/>
<text transform="translate(333.6,1805.4) scale(1.128,1)" font-size="24.5" font-style="italic" fill="#111" stroke="#111" stroke-width="0.35">MAP2K1</text>
<rect x="125.9" y="1809.2" width="94.6" height="24.1" fill="#ffece5"/><rect x="222.7" y="1809.2" width="97.1" height="24.1" fill="#eff7fa"/>
<text transform="translate(333.6,1832.7) scale(1.128,1)" font-size="24.5" font-style="italic" fill="#111" stroke="#111" stroke-width="0.35">SMAD7</text>
<rect x="125.9" y="1836.5" width="94.6" height="24.1" fill="#ffeee8"/><rect x="222.7" y="1836.5" width="97.1" height="24.1" fill="#e9f4f8"/>
<text transform="translate(333.6,1859.9) scale(1.128,1)" font-size="24.5" font-style="italic" fill="#111" stroke="#111" stroke-width="0.35">MAP3K11</text>
<rect x="125.9" y="1863.8" width="94.6" height="24.1" fill="#f5fafc"/><rect x="222.7" y="1863.8" width="97.1" height="24.1" fill="#ffcfbf"/>
<text transform="translate(333.6,1887.2) scale(1.128,1)" font-size="24.5" font-style="italic" fill="#111" stroke="#111" stroke-width="0.35">MAPK8</text>
<rect x="125.9" y="1891.0" width="94.6" height="24.1" fill="#fdfefe"/><rect x="222.7" y="1891.0" width="97.1" height="24.1" fill="#ffdbcf"/>
<text transform="translate(333.6,1914.5) scale(1.128,1)" font-size="24.5" font-style="italic" fill="#111" stroke="#111" stroke-width="0.35">MAP3K1</text>
<rect x="125.9" y="1918.3" width="94.6" height="24.1" fill="#fdfefe"/><rect x="222.7" y="1918.3" width="97.1" height="24.1" fill="#ffded2"/>
<text transform="translate(333.6,1941.8) scale(1.128,1)" font-size="24.5" font-style="italic" fill="#111" stroke="#111" stroke-width="0.35">MAP3K7</text>
<rect x="125.9" y="1945.6" width="94.6" height="24.1" fill="#dfeff5"/><rect x="222.7" y="1945.6" width="97.1" height="24.1" fill="#ffeae2"/>
<text transform="translate(333.6,1969.0) scale(1.128,1)" font-size="24.5" font-style="italic" fill="#111" stroke="#111" stroke-width="0.35">MAPK10</text>
<rect x="125.9" y="1972.9" width="94.6" height="24.1" fill="#e5f2f7"/><rect x="222.7" y="1972.9" width="97.1" height="24.1" fill="#ffffff"/>
<text transform="translate(333.6,1996.3) scale(1.128,1)" font-size="24.5" font-style="italic" fill="#111" stroke="#111" stroke-width="0.35">TGFBR1</text>
<rect x="125.9" y="2000.1" width="94.6" height="24.1" fill="#fafdfd"/><rect x="222.7" y="2000.1" width="97.1" height="24.1" fill="#e3f1f6"/>
<text transform="translate(333.6,2023.6) scale(1.128,1)" font-size="24.5" font-style="italic" fill="#111" stroke="#111" stroke-width="0.35">MAP2K2</text>
<rect x="125.9" y="2027.4" width="94.6" height="24.1" fill="#f3f9fb"/><rect x="222.7" y="2027.4" width="97.1" height="24.1" fill="#e1f0f6"/>
<text transform="translate(333.6,2050.9) scale(1.128,1)" font-size="24.5" font-style="italic" fill="#111" stroke="#111" stroke-width="0.35">SMAD6</text>
<rect x="125.9" y="2054.7" width="94.6" height="24.1" fill="#ebf5f9"/><rect x="222.7" y="2054.7" width="97.1" height="24.1" fill="#ebf5f9"/>
<text transform="translate(333.6,2078.1) scale(1.128,1)" font-size="24.5" font-style="italic" fill="#111" stroke="#111" stroke-width="0.35">TP53</text>
<rect x="125.9" y="2082.0" width="94.6" height="24.1" fill="#feffff"/><rect x="222.7" y="2082.0" width="97.1" height="24.1" fill="#d1e9f1"/>
<text transform="translate(333.6,2105.4) scale(1.128,1)" font-size="24.5" font-style="italic" fill="#111" stroke="#111" stroke-width="0.35">SMURF2</text>
<rect x="125.9" y="2109.2" width="94.6" height="24.1" fill="#f1f8fb"/><rect x="222.7" y="2109.2" width="97.1" height="24.1" fill="#c8e5ee"/>
<text transform="translate(333.6,2132.7) scale(1.128,1)" font-size="24.5" font-style="italic" fill="#111" stroke="#111" stroke-width="0.35">BMPR1B</text>
<rect x="125.9" y="2136.5" width="94.6" height="24.1" fill="#fffdfc"/><rect x="222.7" y="2136.5" width="97.2" height="24.1" fill="#a5bceb"/>
<text transform="translate(333.6,2160.0) scale(1.128,1)" font-size="24.5" font-style="italic" fill="#111" stroke="#111" stroke-width="0.35">MAP2K3</text>
<rect x="120.4" y="1153.0" width="204.4" height="1009.2" fill="none" stroke="#444" stroke-width="3"/>
<text x="121.5" y="2192.7" font-size="27.5" font-weight="bold" fill="#111" textLength="95.9" lengthAdjust="spacingAndGlyphs">I-DMEM</text>
<text x="242.6" y="2192.7" font-size="27.5" font-weight="bold" fill="#111" textLength="59.6" lengthAdjust="spacingAndGlyphs">I-OM</text>
<path d="M66.7 1210.6H27.2V1938.8H59.3M109.1 1179.9H66.7V1240.5H84.7M116.5 1167.1H109.1V1193.0H116.5M116.5 1220.5H84.7V1261.2H106.2M116.5 1247.8H106.2V1275.1H116.5M117.5 1303.6H113.7V1330.9H117.5M113.7 1316.9H103.9V1517.8H108.5M103.9 1415.0H96.9V1777.7H103.3M96.9 1596.8H84.7V1933.9H98.4M84.7 1765.5H59.3V2114.1H82.5M113.5 1400.0H108.5V1632.0H113.5M117.5 1357.0H113.3V1440.0H117.5M117.5 1630.5H113.3V1658.0H117.5M117.5 1670.2H110.3V1794.5H117.5M110.3 1720.7H103.3V1834.5H113.2M117.5 1820.7H113.2V1849.1H117.5M117.5 1875.7H110.5V1916.5H114.5M117.5 1903.0H114.5V1930.5H117.5M110.5 1897.0H98.4V1970.9H108.6M116.5 1957.0H108.6V1984.9H116.5M117.5 2012.3H113.7V2040.0H117.5M113.7 2026.9H108.6V2067.5H116.5M108.6 2047.9H101.6V2107.5H108.6M116.5 2094.5H108.6V2121.8H116.5M101.6 2077.2H82.5V2148.5H116.5" stroke="#484848" stroke-width="2.7" fill="none" stroke-linejoin="round"/>
<path d="M114.6 1402.0V1412.0M114.6 1440.0V1452.0M115.0 1494.0V1520.0M115.0 1550.0V1575.0M115.2 1656.0V1668.0M115.4 1712.0V1768.0M115.8 1902.0V1930.0" stroke="#7d7d7d" stroke-width="4.2" fill="none"/>
<path d="M113.6 1385.0V1398.0M113.4 1428.0V1482.0M113.6 1496.0V1512.0M113.4 1565.0V1578.0M113.2 1583.0V1606.0M113.6 1746.0V1750.0" stroke="#0a0a0a" stroke-width="3.6" fill="none" stroke-linecap="round"/>
<text x="698.6" y="1109.8" font-size="36" text-anchor="middle" fill="#333" textLength="65.3" lengthAdjust="spacingAndGlyphs">Ca+</text>
<rect x="592.3" y="1153.5" width="103.9" height="26.6" fill="#ff4d2e"/><rect x="698.4" y="1154.0" width="103.5" height="25.6" fill="#ffffff"/>
<text transform="translate(813.6,1178.2) scale(1.128,1)" font-size="24.5" font-style="italic" fill="#111" stroke="#111" stroke-width="0.35">GPRC6A</text>
<rect x="592.3" y="1182.3" width="103.9" height="26.6" fill="#ff7e5e"/><rect x="698.4" y="1182.8" width="103.5" height="25.6" fill="#ffd2c2"/>
<text transform="translate(813.6,1207.0) scale(1.128,1)" font-size="24.5" font-style="italic" fill="#111" stroke="#111" stroke-width="0.35">FOS</text>
<rect x="592.3" y="1211.0" width="103.9" height="26.6" fill="#ff997b"/><rect x="698.4" y="1211.5" width="103.5" height="25.6" fill="#ffd2c2"/>
<text transform="translate(813.6,1235.7) scale(1.128,1)" font-size="24.5" font-style="italic" fill="#111" stroke="#111" stroke-width="0.35">LEF1</text>
<rect x="596.3" y="1240.3" width="99.9" height="25.6" fill="#fff3ef"/><rect x="698.4" y="1239.8" width="107.0" height="26.6" fill="#ff7e5e"/>
<text transform="translate(813.6,1264.5) scale(1.128,1)" font-size="24.5" font-style="italic" fill="#111" stroke="#111" stroke-width="0.35">MAP2K6</text>
<rect x="596.3" y="1269.1" width="99.9" height="25.6" fill="#ffd4c5"/><rect x="698.4" y="1269.1" width="103.5" height="25.6" fill="#ffcfbf"/>
<text transform="translate(813.6,1293.3) scale(1.128,1)" font-size="24.5" font-style="italic" fill="#111" stroke="#111" stroke-width="0.35">PLCG1</text>
<rect x="596.3" y="1297.8" width="99.9" height="25.6" fill="#ffeae2"/><rect x="698.4" y="1297.8" width="103.5" height="25.6" fill="#ffc1ac"/>
<text transform="translate(813.6,1322.0) scale(1.128,1)" font-size="24.5" font-style="italic" fill="#111" stroke="#111" stroke-width="0.35">PRKCA</text>
<rect x="596.3" y="1326.6" width="99.9" height="25.6" fill="#f5fafc"/><rect x="698.4" y="1326.6" width="103.5" height="25.6" fill="#ffcfbf"/>
<text transform="translate(813.6,1350.8) scale(1.128,1)" font-size="24.5" font-style="italic" fill="#111" stroke="#111" stroke-width="0.35">MAPK8</text>
<rect x="596.3" y="1355.4" width="99.9" height="25.6" fill="#f5fafc"/><rect x="698.4" y="1355.4" width="103.5" height="25.6" fill="#ffd6c8"/>
<text transform="translate(813.6,1379.6) scale(1.128,1)" font-size="24.5" font-style="italic" fill="#111" stroke="#111" stroke-width="0.35">MAP3K2</text>
<rect x="596.3" y="1384.2" width="99.9" height="25.6" fill="#fff3ef"/><rect x="698.4" y="1384.2" width="103.5" height="25.6" fill="#ffe7de"/>
<text transform="translate(813.6,1408.3) scale(1.128,1)" font-size="24.5" font-style="italic" fill="#111" stroke="#111" stroke-width="0.35">PRKACA</text>
<rect x="596.3" y="1412.9" width="99.9" height="25.6" fill="#fffefd"/><rect x="698.4" y="1412.9" width="103.5" height="25.6" fill="#ffece5"/>
<text transform="translate(813.6,1437.1) scale(1.128,1)" font-size="24.5" font-style="italic" fill="#111" stroke="#111" stroke-width="0.35">PTK2</text>
<rect x="596.3" y="1441.7" width="99.9" height="25.6" fill="#fff1eb"/><rect x="698.4" y="1441.7" width="103.5" height="25.6" fill="#fff8f5"/>
<text transform="translate(813.6,1465.9) scale(1.128,1)" font-size="24.5" font-style="italic" fill="#111" stroke="#111" stroke-width="0.35">SRC</text>
<rect x="596.3" y="1470.5" width="99.9" height="25.6" fill="#fdfefe"/><rect x="698.4" y="1470.5" width="103.5" height="25.6" fill="#ffeee8"/>
<text transform="translate(813.6,1494.6) scale(1.128,1)" font-size="24.5" font-style="italic" fill="#111" stroke="#111" stroke-width="0.35">MAP2K4</text>
<rect x="596.3" y="1499.2" width="99.9" height="25.6" fill="#fafdfd"/><rect x="698.4" y="1499.2" width="103.5" height="25.6" fill="#ffeee8"/>
<text transform="translate(813.6,1523.4) scale(1.128,1)" font-size="24.5" font-style="italic" fill="#111" stroke="#111" stroke-width="0.35">NFKB1</text>
<rect x="596.3" y="1528.0" width="99.9" height="25.6" fill="#f9fcfd"/><rect x="698.4" y="1528.0" width="103.5" height="25.6" fill="#fff1eb"/>
<text transform="translate(813.6,1552.2) scale(1.128,1)" font-size="24.5" font-style="italic" fill="#111" stroke="#111" stroke-width="0.35">MAPK14</text>
<rect x="596.3" y="1556.8" width="99.9" height="25.6" fill="#f9fcfd"/><rect x="698.4" y="1556.8" width="103.5" height="25.6" fill="#fff9f7"/>
<text transform="translate(813.6,1580.9) scale(1.128,1)" font-size="24.5" font-style="italic" fill="#111" stroke="#111" stroke-width="0.35">KRAS</text>
<rect x="596.3" y="1585.5" width="99.9" height="25.6" fill="#fefeff"/><rect x="698.4" y="1585.5" width="103.5" height="25.6" fill="#fffefd"/>
<text transform="translate(813.6,1609.7) scale(1.128,1)" font-size="24.5" font-style="italic" fill="#111" stroke="#111" stroke-width="0.35">SMAD4</text>
<rect x="596.3" y="1614.3" width="99.9" height="25.6" fill="#fefeff"/><rect x="698.4" y="1614.3" width="103.5" height="25.6" fill="#ffffff"/>
<text transform="translate(813.6,1638.5) scale(1.128,1)" font-size="24.5" font-style="italic" fill="#111" stroke="#111" stroke-width="0.35">MAP3K3</text>
<rect x="596.3" y="1643.1" width="99.9" height="25.6" fill="#fdfefe"/><rect x="698.4" y="1643.1" width="103.5" height="25.6" fill="#feffff"/>
<text transform="translate(813.6,1667.3) scale(1.128,1)" font-size="24.5" font-style="italic" fill="#111" stroke="#111" stroke-width="0.35">MAPK3</text>
<rect x="596.3" y="1671.8" width="99.9" height="25.6" fill="#fefeff"/><rect x="698.4" y="1671.8" width="103.5" height="25.6" fill="#fafdfd"/>
<text transform="translate(813.6,1696.0) scale(1.128,1)" font-size="24.5" font-style="italic" fill="#111" stroke="#111" stroke-width="0.35">MAPK1</text>
<rect x="596.3" y="1700.6" width="99.9" height="25.6" fill="#ffeee8"/><rect x="698.4" y="1700.6" width="103.5" height="25.6" fill="#f9fcfd"/>
<text transform="translate(813.6,1724.8) scale(1.128,1)" font-size="24.5" font-style="italic" fill="#111" stroke="#111" stroke-width="0.35">MAP2K7</text>
<rect x="596.3" y="1729.4" width="99.9" height="25.6" fill="#fff1eb"/><rect x="698.4" y="1729.4" width="103.5" height="25.6" fill="#fafdfd"/>
<text transform="translate(813.6,1753.6) scale(1.128,1)" font-size="24.5" font-style="italic" fill="#111" stroke="#111" stroke-width="0.35">JUN</text>
<rect x="596.3" y="1758.1" width="99.9" height="25.6" fill="#ffeee8"/><rect x="698.4" y="1758.1" width="103.5" height="25.6" fill="#f3f9fb"/>
<text transform="translate(813.6,1782.3) scale(1.128,1)" font-size="24.5" font-style="italic" fill="#111" stroke="#111" stroke-width="0.35">MAPK7</text>
<rect x="596.3" y="1786.9" width="99.9" height="25.6" fill="#fffbfa"/><rect x="698.4" y="1786.9" width="103.5" height="25.6" fill="#f3f9fb"/>
<text transform="translate(813.6,1811.1) scale(1.128,1)" font-size="24.5" font-style="italic" fill="#111" stroke="#111" stroke-width="0.35">TCF7</text>
<rect x="596.3" y="1815.7" width="99.9" height="25.6" fill="#fefeff"/><rect x="698.4" y="1815.7" width="103.5" height="25.6" fill="#f5fafc"/>
<text transform="translate(813.6,1839.9) scale(1.128,1)" font-size="24.5" font-style="italic" fill="#111" stroke="#111" stroke-width="0.35">MAP2K1</text>
<rect x="596.3" y="1844.5" width="99.9" height="25.6" fill="#f3f9fb"/><rect x="698.4" y="1844.5" width="103.5" height="25.6" fill="#e7f3f7"/>
<text transform="translate(813.6,1868.6) scale(1.128,1)" font-size="24.5" font-style="italic" fill="#111" stroke="#111" stroke-width="0.35">NRAS</text>
<rect x="596.3" y="1873.2" width="99.9" height="25.6" fill="#fafdfd"/><rect x="698.4" y="1873.2" width="103.5" height="25.6" fill="#e7f3f7"/>
<text transform="translate(813.6,1897.4) scale(1.128,1)" font-size="24.5" font-style="italic" fill="#111" stroke="#111" stroke-width="0.35">MAP2K2</text>
<rect x="596.3" y="1902.0" width="99.9" height="25.6" fill="#eff7fa"/><rect x="698.4" y="1902.0" width="103.5" height="25.6" fill="#edf6f9"/>
<text transform="translate(813.6,1926.2) scale(1.128,1)" font-size="24.5" font-style="italic" fill="#111" stroke="#111" stroke-width="0.35">TP53</text>
<rect x="596.3" y="1930.8" width="99.9" height="25.6" fill="#f3f9fb"/><rect x="698.4" y="1930.8" width="103.5" height="25.6" fill="#cae6ef"/>
<text transform="translate(813.6,1954.9) scale(1.128,1)" font-size="24.5" font-style="italic" fill="#111" stroke="#111" stroke-width="0.35">HRAS</text>
<rect x="596.3" y="1959.5" width="99.9" height="25.6" fill="#fffdfc"/><rect x="698.4" y="1959.5" width="103.6" height="25.6" fill="#a5bceb"/>
<text transform="translate(813.6,1983.7) scale(1.128,1)" font-size="24.5" font-style="italic" fill="#111" stroke="#111" stroke-width="0.35">MAP2K3</text>
<rect x="590.8" y="1152.4" width="216.1" height="834.3" fill="none" stroke="#444" stroke-width="3"/>
<text x="595.4" y="2018.4" font-size="27.5" font-weight="bold" fill="#111" textLength="96.1" lengthAdjust="spacingAndGlyphs">I-DMEM</text>
<text x="719.7" y="2018.4" font-size="27.5" font-weight="bold" fill="#111" textLength="59.6" lengthAdjust="spacingAndGlyphs">I-OM</text>
<path d="M512.5 1237.6H498.4V1863.5H533.6M551.9 1186.9H512.5V1288.9H556.3M587.0 1166.9H551.9V1207.6H577.0M587.0 1194.4H577.0V1223.6H587.0M587.0 1252.0H556.3V1322.7H568.2M579.5 1295.8H568.2V1353.3H584.5M587.0 1281.4H579.5V1310.2H587.0M588.0 1339.5H584.5V1367.7H588.0M588.0 1397.7H584.5V1425.0H588.0M582.5 1431.8H577.1V1598.6H582.5M577.1 1431.8H582.5V1454.5H588.0M577.1 1514.9H571.8V1781.1H581.2M571.8 1648.9H563.1V1894.4H579.1M588.0 1542.3H579.1V1652.3H585.0M588.0 1541.0H585.2V1567.8H588.0M588.0 1656.3H585.2V1684.4H588.0M563.1 1771.0H533.6V1958.5H569.8M587.0 1944.5H569.8V1972.8H587.0M585.2 1871.6H579.1V1915.1H587.0M588.0 1857.5H585.2V1887.0H588.0M585.0 1772.4H581.8V1828.7H588.0" stroke="#484848" stroke-width="2.7" fill="none" stroke-linejoin="round"/>
<path d="M574.4 1518.0V1596.0M585.6 1484.0V1497.0M585.8 1600.0V1620.0M585.6 1714.0V1728.0" stroke="#7d7d7d" stroke-width="4.2" fill="none"/>
<path d="M583.8 1415.0V1424.0M585.0 1497.0V1510.0M578.2 1545.0V1597.0M585.0 1620.0V1653.0M584.0 1728.0V1744.0M582.8 1752.0V1770.0M582.6 1800.0V1813.0" stroke="#0a0a0a" stroke-width="3.6" fill="none" stroke-linecap="round"/>
<text x="1178.5" y="1110.0" font-size="36" text-anchor="middle" fill="#333" textLength="92.0" lengthAdjust="spacingAndGlyphs">Notch</text>
<rect x="1068.8" y="1155.7" width="106.1" height="25.0" fill="#dc0002"/><rect x="1177.1" y="1156.2" width="101.5" height="24.0" fill="#ffffff"/>
<text transform="translate(1292.9,1179.6) scale(1.128,1)" font-size="24.5" font-style="italic" fill="#111" stroke="#111" stroke-width="0.35">NOTCH4</text>
<rect x="1068.8" y="1182.9" width="106.1" height="25.0" fill="#f80001"/><rect x="1177.1" y="1182.9" width="105.0" height="25.0" fill="#6c55f9"/>
<text transform="translate(1292.9,1206.9) scale(1.128,1)" font-size="24.5" font-style="italic" fill="#111" stroke="#111" stroke-width="0.35">DLL3</text>
<rect x="1072.8" y="1210.7" width="102.1" height="24.0" fill="#ffe0d5"/><rect x="1177.1" y="1210.7" width="101.5" height="24.0" fill="#ffc6b2"/>
<text transform="translate(1292.9,1234.1) scale(1.128,1)" font-size="24.5" font-style="italic" fill="#111" stroke="#111" stroke-width="0.35">FOXO1</text>
<rect x="1072.8" y="1237.9" width="102.1" height="24.0" fill="#ffeae2"/><rect x="1177.1" y="1237.9" width="101.5" height="24.0" fill="#ffbca6"/>
<text transform="translate(1292.9,1261.4) scale(1.128,1)" font-size="24.5" font-style="italic" fill="#111" stroke="#111" stroke-width="0.35">NOTCH2</text>
<rect x="1072.8" y="1265.2" width="102.1" height="24.0" fill="#ebf5f9"/><rect x="1177.1" y="1264.7" width="104.9" height="25.0" fill="#ff9e81"/>
<text transform="translate(1292.9,1288.6) scale(1.128,1)" font-size="24.5" font-style="italic" fill="#111" stroke="#111" stroke-width="0.35">HEY1</text>
<rect x="1072.8" y="1292.4" width="102.1" height="24.0" fill="#ffeee8"/><rect x="1177.1" y="1292.4" width="101.5" height="24.0" fill="#ffded2"/>
<text transform="translate(1292.9,1315.9) scale(1.128,1)" font-size="24.5" font-style="italic" fill="#111" stroke="#111" stroke-width="0.35">MAML1</text>
<rect x="1072.8" y="1319.7" width="102.1" height="24.0" fill="#ffeee8"/><rect x="1177.1" y="1319.7" width="101.5" height="24.0" fill="#ffdbcf"/>
<text transform="translate(1292.9,1343.1) scale(1.128,1)" font-size="24.5" font-style="italic" fill="#111" stroke="#111" stroke-width="0.35">RBPJ</text>
<rect x="1072.8" y="1346.9" width="102.1" height="24.0" fill="#ffeee8"/><rect x="1177.1" y="1346.9" width="101.5" height="24.0" fill="#ffe0d5"/>
<text transform="translate(1292.9,1370.4) scale(1.128,1)" font-size="24.5" font-style="italic" fill="#111" stroke="#111" stroke-width="0.35">JAG1</text>
<rect x="1072.8" y="1374.2" width="102.1" height="24.0" fill="#ffffff"/><rect x="1177.1" y="1374.2" width="101.5" height="24.0" fill="#ffffff"/>
<text transform="translate(1292.9,1397.6) scale(1.128,1)" font-size="24.5" font-style="italic" fill="#111" stroke="#111" stroke-width="0.35">HES5</text>
<rect x="1069.0" y="1400.9" width="105.9" height="25.0" fill="#ff9e81"/><rect x="1177.1" y="1401.4" width="101.5" height="24.0" fill="#e3f1f6"/>
<text transform="translate(1292.9,1424.8) scale(1.128,1)" font-size="24.5" font-style="italic" fill="#111" stroke="#111" stroke-width="0.35">HES7</text>
<rect x="1069.6" y="1428.3" width="105.3" height="24.9" fill="#ffa387"/><rect x="1177.1" y="1428.7" width="101.5" height="24.0" fill="#c2e2ec"/>
<text transform="translate(1292.9,1452.1) scale(1.128,1)" font-size="24.5" font-style="italic" fill="#111" stroke="#111" stroke-width="0.35">HES1</text>
<rect x="1072.8" y="1455.9" width="102.1" height="24.0" fill="#fff3ef"/><rect x="1177.1" y="1455.9" width="101.5" height="24.0" fill="#dfeff5"/>
<text transform="translate(1292.9,1479.3) scale(1.128,1)" font-size="24.5" font-style="italic" fill="#111" stroke="#111" stroke-width="0.35">NOTCH1</text>
<rect x="1072.8" y="1483.2" width="102.1" height="24.0" fill="#fffaf8"/><rect x="1177.1" y="1483.2" width="101.5" height="24.0" fill="#a8c5e9"/>
<text transform="translate(1292.9,1506.6) scale(1.128,1)" font-size="24.5" font-style="italic" fill="#111" stroke="#111" stroke-width="0.35">DLL4</text>
<rect x="1072.8" y="1510.4" width="102.1" height="24.0" fill="#dfeff5"/><rect x="1177.1" y="1510.2" width="102.9" height="24.5" fill="#9697f1"/>
<text transform="translate(1292.9,1533.8) scale(1.128,1)" font-size="24.5" font-style="italic" fill="#111" stroke="#111" stroke-width="0.35">HES6</text>
<rect x="1072.8" y="1537.7" width="102.1" height="24.0" fill="#e7f3f7"/><rect x="1177.1" y="1537.7" width="101.5" height="24.0" fill="#ffded2"/>
<text transform="translate(1292.9,1561.1) scale(1.128,1)" font-size="24.5" font-style="italic" fill="#111" stroke="#111" stroke-width="0.35">DLL1</text>
<rect x="1072.8" y="1564.9" width="102.1" height="24.0" fill="#cee8f0"/><rect x="1177.1" y="1564.9" width="101.5" height="24.0" fill="#ffeee8"/>
<text transform="translate(1292.9,1588.3) scale(1.128,1)" font-size="24.5" font-style="italic" fill="#111" stroke="#111" stroke-width="0.35">HEY2</text>
<rect x="1072.8" y="1592.2" width="102.1" height="24.0" fill="#e7f3f7"/><rect x="1177.1" y="1592.2" width="101.5" height="24.0" fill="#f7fbfc"/>
<text transform="translate(1292.9,1615.6) scale(1.128,1)" font-size="24.5" font-style="italic" fill="#111" stroke="#111" stroke-width="0.35">JAG2</text>
<rect x="1072.8" y="1619.4" width="102.1" height="24.0" fill="#e7f3f7"/><rect x="1177.1" y="1619.4" width="101.5" height="24.0" fill="#d3e9f1"/>
<text transform="translate(1292.9,1642.8) scale(1.128,1)" font-size="24.5" font-style="italic" fill="#111" stroke="#111" stroke-width="0.35">NOTCH3</text>
<rect x="1072.8" y="1646.7" width="102.1" height="24.0" fill="#c6e4ed"/><rect x="1177.1" y="1646.7" width="101.5" height="24.0" fill="#dfeff5"/>
<text transform="translate(1292.9,1670.1) scale(1.128,1)" font-size="24.5" font-style="italic" fill="#111" stroke="#111" stroke-width="0.35">HES4</text>
<rect x="1068.8" y="1673.4" width="106.1" height="25.0" fill="#7a69f7"/><rect x="1177.1" y="1673.9" width="101.5" height="24.0" fill="#ffffff"/>
<text transform="translate(1292.9,1697.3) scale(1.128,1)" font-size="24.5" font-style="italic" fill="#111" stroke="#111" stroke-width="0.35">HES3</text>
<rect x="1069.4" y="1700.7" width="105.5" height="24.9" fill="#8c85f4"/><rect x="1177.1" y="1701.2" width="101.5" height="24.0" fill="#d7ebf2"/>
<text transform="translate(1292.9,1724.6) scale(1.128,1)" font-size="24.5" font-style="italic" fill="#111" stroke="#111" stroke-width="0.35">HES2</text>
<rect x="1067.3" y="1154.6" width="216.3" height="572.2" fill="none" stroke="#444" stroke-width="3"/>
<text x="1071.5" y="1759.8" font-size="27.5" font-weight="bold" fill="#111" textLength="95.8" lengthAdjust="spacingAndGlyphs">I-DMEM</text>
<text x="1198.4" y="1759.8" font-size="27.5" font-weight="bold" fill="#111" textLength="59.6" lengthAdjust="spacingAndGlyphs">I-OM</text>
<path d="M1025.3 1181.9H975.2V1525.6H1012.1M1063.0 1168.5H1025.3V1195.9H1063.0M1064.5 1223.4H1060.8V1251.0H1064.5M1060.8 1237.5H1051.5V1277.2H1063.0M1051.5 1258.9H1046.8V1362.2H1058.2M1062.0 1339.4H1058.2V1387.0H1063.0M1046.8 1309.2H1021.5V1479.2H1032.9M1021.5 1394.3H1012.1V1657.2H1035.6M1063.0 1414.5H1056.8V1440.5H1063.0M1056.8 1427.8H1049.2V1467.8H1063.0M1049.2 1448.0H1032.9V1509.6H1053.7M1063.0 1496.0H1053.7V1523.8H1063.0M1044.6 1616.3H1035.6V1700.1H1049.5M1056.4 1586.5H1044.6V1645.4H1053.7M1063.0 1551.0H1056.4V1604.8H1063.0M1056.4 1578.5H1063.0M1063.0 1632.5H1053.7V1660.2H1063.0M1063.0 1687.2H1049.5V1715.2H1063.0" stroke="#484848" stroke-width="2.7" fill="none" stroke-linejoin="round"/>
<path d="M1063.6 1304.0V1360.0M1060.6 1340.0V1360.0" stroke="#7d7d7d" stroke-width="4.2" fill="none"/>
<text x="1646.6" y="1110.0" font-size="36" text-anchor="middle" fill="#333" textLength="71.8" lengthAdjust="spacingAndGlyphs">FGF</text>
<rect x="1540.3" y="1155.0" width="102.2" height="25.4" fill="#ffeae2"/><rect x="1644.7" y="1155.0" width="105.7" height="25.4" fill="#ffc1ac"/>
<text transform="translate(1762.7,1179.1) scale(1.128,1)" font-size="24.5" font-style="italic" fill="#111" stroke="#111" stroke-width="0.35">PRKCA</text>
<rect x="1540.3" y="1183.6" width="102.2" height="25.4" fill="#f5fafc"/><rect x="1644.7" y="1183.6" width="105.7" height="25.4" fill="#ffcfbf"/>
<text transform="translate(1762.7,1207.7) scale(1.128,1)" font-size="24.5" font-style="italic" fill="#111" stroke="#111" stroke-width="0.35">MAPK8</text>
<rect x="1540.3" y="1212.2" width="102.2" height="25.4" fill="#feffff"/><rect x="1644.7" y="1212.2" width="105.7" height="25.4" fill="#ffded2"/>
<text transform="translate(1762.7,1236.4) scale(1.128,1)" font-size="24.5" font-style="italic" fill="#111" stroke="#111" stroke-width="0.35">PIK3CA</text>
<rect x="1540.3" y="1240.9" width="102.2" height="25.4" fill="#fafdfd"/><rect x="1644.7" y="1240.9" width="105.7" height="25.4" fill="#ffece5"/>
<text transform="translate(1762.7,1265.0) scale(1.128,1)" font-size="24.5" font-style="italic" fill="#111" stroke="#111" stroke-width="0.35">NFKB1</text>
<rect x="1540.3" y="1269.5" width="102.2" height="25.4" fill="#f9fcfd"/><rect x="1644.7" y="1269.5" width="105.7" height="25.4" fill="#ffece5"/>
<text transform="translate(1762.7,1293.6) scale(1.128,1)" font-size="24.5" font-style="italic" fill="#111" stroke="#111" stroke-width="0.35">FGFR1</text>
<rect x="1540.3" y="1298.1" width="102.2" height="25.4" fill="#f9fcfd"/><rect x="1644.7" y="1298.1" width="105.7" height="25.4" fill="#ffeee8"/>
<text transform="translate(1762.7,1322.2) scale(1.128,1)" font-size="24.5" font-style="italic" fill="#111" stroke="#111" stroke-width="0.35">MAPK14</text>
<rect x="1540.3" y="1326.7" width="102.2" height="25.4" fill="#fbfdfe"/><rect x="1644.7" y="1326.7" width="105.7" height="25.4" fill="#fff1eb"/>
<text transform="translate(1762.7,1350.9) scale(1.128,1)" font-size="24.5" font-style="italic" fill="#111" stroke="#111" stroke-width="0.35">RAF1</text>
<rect x="1540.3" y="1355.4" width="102.2" height="25.4" fill="#f9fcfd"/><rect x="1644.7" y="1355.4" width="105.7" height="25.4" fill="#fff8f5"/>
<text transform="translate(1762.7,1379.5) scale(1.128,1)" font-size="24.5" font-style="italic" fill="#111" stroke="#111" stroke-width="0.35">KRAS</text>
<rect x="1540.3" y="1384.0" width="102.2" height="25.4" fill="#ffeee8"/><rect x="1644.7" y="1384.0" width="105.7" height="25.4" fill="#fafdfd"/>
<text transform="translate(1762.7,1408.1) scale(1.128,1)" font-size="24.5" font-style="italic" fill="#111" stroke="#111" stroke-width="0.35">JUN</text>
<rect x="1540.3" y="1412.6" width="102.2" height="25.4" fill="#fefeff"/><rect x="1644.7" y="1412.6" width="105.7" height="25.4" fill="#ffffff"/>
<text transform="translate(1762.7,1436.7) scale(1.128,1)" font-size="24.5" font-style="italic" fill="#111" stroke="#111" stroke-width="0.35">MAPK3</text>
<rect x="1540.3" y="1441.2" width="102.2" height="25.4" fill="#ffffff"/><rect x="1644.7" y="1441.2" width="105.7" height="25.4" fill="#fbfdfe"/>
<text transform="translate(1762.7,1465.3) scale(1.128,1)" font-size="24.5" font-style="italic" fill="#111" stroke="#111" stroke-width="0.35">ELK1</text>
<rect x="1540.3" y="1469.9" width="102.2" height="25.4" fill="#fefeff"/><rect x="1644.7" y="1469.9" width="105.7" height="25.4" fill="#fbfdfe"/>
<text transform="translate(1762.7,1494.0) scale(1.128,1)" font-size="24.5" font-style="italic" fill="#111" stroke="#111" stroke-width="0.35">MAPK1</text>
<rect x="1540.3" y="1498.5" width="102.2" height="25.4" fill="#cae6ef"/><rect x="1644.7" y="1498.0" width="109.2" height="26.4" fill="#ff8969"/>
<text transform="translate(1762.7,1522.6) scale(1.128,1)" font-size="24.5" font-style="italic" fill="#111" stroke="#111" stroke-width="0.35">FGFR2</text>
<rect x="1540.3" y="1527.1" width="102.2" height="25.4" fill="#fbfdfe"/><rect x="1644.7" y="1527.1" width="105.7" height="25.4" fill="#e7f3f7"/>
<text transform="translate(1762.7,1551.2) scale(1.128,1)" font-size="24.5" font-style="italic" fill="#111" stroke="#111" stroke-width="0.35">RAC1</text>
<rect x="1540.3" y="1555.7" width="102.2" height="25.4" fill="#f5fafc"/><rect x="1644.7" y="1555.7" width="105.7" height="25.4" fill="#e7f3f7"/>
<text transform="translate(1762.7,1579.8) scale(1.128,1)" font-size="24.5" font-style="italic" fill="#111" stroke="#111" stroke-width="0.35">NRAS</text>
<rect x="1540.3" y="1584.4" width="102.2" height="25.4" fill="#ebf5f9"/><rect x="1644.7" y="1584.4" width="105.7" height="25.4" fill="#d7ebf2"/>
<text transform="translate(1762.7,1608.5) scale(1.128,1)" font-size="24.5" font-style="italic" fill="#111" stroke="#111" stroke-width="0.35">FGFR3</text>
<rect x="1540.3" y="1613.0" width="102.2" height="25.4" fill="#f3f9fb"/><rect x="1644.7" y="1613.0" width="105.7" height="25.4" fill="#cae6ef"/>
<text transform="translate(1762.7,1637.1) scale(1.128,1)" font-size="24.5" font-style="italic" fill="#111" stroke="#111" stroke-width="0.35">HRAS</text>
<rect x="1534.8" y="1153.4" width="220.6" height="486.6" fill="none" stroke="#444" stroke-width="3"/>
<text x="1541.0" y="1670.3" font-size="27.5" font-weight="bold" fill="#111" textLength="96.0" lengthAdjust="spacingAndGlyphs">I-DMEM</text>
<text x="1668.9" y="1670.3" font-size="27.5" font-weight="bold" fill="#111" textLength="58.9" lengthAdjust="spacingAndGlyphs">I-OM</text>
<path d="M1467.6 1395.7H1442.0V1582.2H1512.0M1500.2 1277.7H1467.6V1510.3H1530.5M1516.2 1190.0H1500.2V1367.2H1516.5M1530.5 1166.8H1516.2V1210.5H1520.1M1530.5 1196.5H1520.1V1224.8H1530.5M1525.3 1314.8H1516.5V1420.5H1523.3M1531.5 1253.0H1527.3V1367.2H1531.5M1531.5 1395.9H1523.3V1446.6H1527.4M1526.5 1425.2H1531.5M1531.5 1452.8H1527.4V1482.5H1531.5M1527.4 1555.5H1512.0V1610.6H1520.3M1531.5 1538.9H1527.4V1568.2H1531.5M1530.5 1596.5H1520.3V1625.5H1530.5" stroke="#484848" stroke-width="2.7" fill="none" stroke-linejoin="round"/>
<path d="M1528.2 1297.0V1310.0M1525.4 1424.0V1444.0" stroke="#7d7d7d" stroke-width="4.2" fill="none"/>
<path d="M1527.0 1275.0V1295.0M1526.6 1342.0V1353.0" stroke="#0a0a0a" stroke-width="3.6" fill="none" stroke-linecap="round"/>
<text x="700.2" y="2234.3" font-size="36" text-anchor="middle" fill="#333" textLength="59.5" lengthAdjust="spacingAndGlyphs">IGF</text>
<rect x="589.7" y="2274.6" width="110.8" height="34.5" fill="#ffeae2"/><rect x="702.7" y="2274.6" width="107.5" height="34.5" fill="#ffc1ac"/>
<text transform="translate(823.0,2303.2) scale(1.128,1)" font-size="24.5" font-style="italic" fill="#111" stroke="#111" stroke-width="0.35">PRKCA</text>
<rect x="589.7" y="2312.3" width="110.8" height="34.5" fill="#fffefd"/><rect x="702.7" y="2312.3" width="107.5" height="34.5" fill="#ffbca6"/>
<text transform="translate(823.0,2340.9) scale(1.128,1)" font-size="24.5" font-style="italic" fill="#111" stroke="#111" stroke-width="0.35">IGF2R</text>
<rect x="589.7" y="2349.9" width="110.8" height="34.5" fill="#ffeae2"/><rect x="702.7" y="2349.9" width="107.5" height="34.5" fill="#ffd6c8"/>
<text transform="translate(823.0,2378.6) scale(1.128,1)" font-size="24.5" font-style="italic" fill="#111" stroke="#111" stroke-width="0.35">IGF1R</text>
<rect x="589.7" y="2387.6" width="110.8" height="34.5" fill="#feffff"/><rect x="702.7" y="2387.6" width="107.5" height="34.5" fill="#ffd9cb"/>
<text transform="translate(823.0,2416.2) scale(1.128,1)" font-size="24.5" font-style="italic" fill="#111" stroke="#111" stroke-width="0.35">PIK3CA</text>
<rect x="589.7" y="2425.3" width="110.8" height="34.5" fill="#fafdfd"/><rect x="702.7" y="2425.3" width="107.5" height="34.5" fill="#ffece5"/>
<text transform="translate(823.0,2453.9) scale(1.128,1)" font-size="24.5" font-style="italic" fill="#111" stroke="#111" stroke-width="0.35">NFKB1</text>
<rect x="589.7" y="2462.9" width="110.8" height="34.5" fill="#f9fcfd"/><rect x="702.7" y="2462.9" width="107.5" height="34.5" fill="#edf6f9"/>
<text transform="translate(823.0,2491.6) scale(1.128,1)" font-size="24.5" font-style="italic" fill="#111" stroke="#111" stroke-width="0.35">AKT1</text>
<rect x="584.2" y="2273.0" width="231.0" height="226.0" fill="none" stroke="#444" stroke-width="3"/>
<text x="593.5" y="2528.7" font-size="27.5" font-weight="bold" fill="#111" textLength="95.9" lengthAdjust="spacingAndGlyphs">I-DMEM</text>
<text x="725.1" y="2528.7" font-size="27.5" font-weight="bold" fill="#111" textLength="59.3" lengthAdjust="spacingAndGlyphs">I-OM</text>
<path d="M535.9 2352.2H492.3V2480.6H580.0M566.0 2310.8H535.9V2393.5H552.6M580.0 2292.4H566.0V2329.3H580.0M580.0 2366.9H552.6V2424.4H566.0M580.0 2405.8H566.0V2443.2H580.0" stroke="#484848" stroke-width="3.2" fill="none" stroke-linejoin="round"/>
<text x="1178.5" y="2059.6" font-size="36" text-anchor="middle" fill="#333" textLength="170.6" lengthAdjust="spacingAndGlyphs">Hedgehog</text>
<rect x="1066.3" y="2099.1" width="115.9" height="28.7" fill="#ff4d2e"/><rect x="1184.4" y="2099.6" width="115.6" height="27.7" fill="#ffffff"/>
<text transform="translate(1311.2,2124.9) scale(1.128,1)" font-size="24.5" font-style="italic" fill="#111" stroke="#111" stroke-width="0.35">DHH</text>
<rect x="1070.3" y="2130.5" width="111.9" height="27.7" fill="#ffcfbf"/><rect x="1184.4" y="2130.5" width="115.6" height="27.7" fill="#ffc1ac"/>
<text transform="translate(1311.2,2155.8) scale(1.128,1)" font-size="24.5" font-style="italic" fill="#111" stroke="#111" stroke-width="0.35">SUFU</text>
<rect x="1070.3" y="2161.4" width="111.9" height="27.7" fill="#ffe2d8"/><rect x="1184.4" y="2161.4" width="115.6" height="27.7" fill="#ffc6b2"/>
<text transform="translate(1311.2,2186.7) scale(1.128,1)" font-size="24.5" font-style="italic" fill="#111" stroke="#111" stroke-width="0.35">STK36</text>
<rect x="1070.3" y="2192.3" width="111.9" height="27.7" fill="#ffe2d8"/><rect x="1184.4" y="2192.3" width="115.6" height="27.7" fill="#ffcab8"/>
<text transform="translate(1311.2,2217.6) scale(1.128,1)" font-size="24.5" font-style="italic" fill="#111" stroke="#111" stroke-width="0.35">PTCH1</text>
<rect x="1070.3" y="2223.2" width="111.9" height="27.7" fill="#f9fcfd"/><rect x="1184.4" y="2222.8" width="119.0" height="28.7" fill="#ff9e81"/>
<text transform="translate(1311.2,2248.5) scale(1.128,1)" font-size="24.5" font-style="italic" fill="#111" stroke="#111" stroke-width="0.35">SMO</text>
<rect x="1070.3" y="2254.1" width="111.9" height="27.7" fill="#ffece5"/><rect x="1184.4" y="2254.1" width="115.6" height="27.7" fill="#ffded2"/>
<text transform="translate(1311.2,2279.4) scale(1.128,1)" font-size="24.5" font-style="italic" fill="#111" stroke="#111" stroke-width="0.35">GLI3</text>
<rect x="1070.3" y="2285.0" width="111.9" height="27.7" fill="#fffbfa"/><rect x="1184.4" y="2285.0" width="115.6" height="27.7" fill="#ffffff"/>
<text transform="translate(1311.2,2310.3) scale(1.128,1)" font-size="24.5" font-style="italic" fill="#111" stroke="#111" stroke-width="0.35">HHIP</text>
<rect x="1070.3" y="2316.0" width="111.9" height="27.7" fill="#ffffff"/><rect x="1184.4" y="2316.0" width="115.6" height="27.7" fill="#ffffff"/>
<text transform="translate(1311.2,2341.2) scale(1.128,1)" font-size="24.5" font-style="italic" fill="#111" stroke="#111" stroke-width="0.35">SHH</text>
<rect x="1070.3" y="2346.9" width="111.9" height="27.7" fill="#ffe5db"/><rect x="1184.4" y="2346.9" width="115.6" height="27.7" fill="#f3f9fb"/>
<text transform="translate(1311.2,2372.1) scale(1.128,1)" font-size="24.5" font-style="italic" fill="#111" stroke="#111" stroke-width="0.35">PTCH2</text>
<rect x="1070.3" y="2377.8" width="111.9" height="27.7" fill="#f3f9fb"/><rect x="1184.4" y="2377.8" width="115.6" height="27.7" fill="#edf6f9"/>
<text transform="translate(1311.2,2403.0) scale(1.128,1)" font-size="24.5" font-style="italic" fill="#111" stroke="#111" stroke-width="0.35">GLI2</text>
<rect x="1070.3" y="2408.7" width="111.9" height="27.7" fill="#fafdfd"/><rect x="1184.4" y="2408.7" width="115.6" height="27.7" fill="#dfeff5"/>
<text transform="translate(1311.2,2433.9) scale(1.128,1)" font-size="24.5" font-style="italic" fill="#111" stroke="#111" stroke-width="0.35">KIF7</text>
<rect x="1070.3" y="2439.6" width="111.9" height="27.7" fill="#d7ebf2"/><rect x="1184.4" y="2439.6" width="115.6" height="27.7" fill="#f3f9fb"/>
<text transform="translate(1311.2,2464.8) scale(1.128,1)" font-size="24.5" font-style="italic" fill="#111" stroke="#111" stroke-width="0.35">GLI1</text>
<rect x="1066.3" y="2470.0" width="115.9" height="28.7" fill="#7a69f7"/><rect x="1184.4" y="2470.0" width="119.1" height="28.7" fill="#634bfa"/>
<text transform="translate(1311.2,2495.7) scale(1.128,1)" font-size="24.5" font-style="italic" fill="#111" stroke="#111" stroke-width="0.35">IHH</text>
<rect x="1064.8" y="2098.0" width="240.2" height="401.8" fill="none" stroke="#444" stroke-width="3"/>
<text x="1077.0" y="2529.4" font-size="27.5" font-weight="bold" fill="#111" textLength="96.1" lengthAdjust="spacingAndGlyphs">I-DMEM</text>
<text x="1213.0" y="2529.4" font-size="27.5" font-weight="bold" fill="#111" textLength="59.5" lengthAdjust="spacingAndGlyphs">I-OM</text>
<path d="M1005.6 2206.5H973.3V2483.0H1061.0M1061.0 2114.2H1005.6V2297.7H1031.2M1049.3 2202.7H1031.2V2394.5H1040.7M1055.9 2167.6H1049.3V2236.9H1061.0M1062.0 2144.8H1055.9V2188.5H1062.0M1055.9 2286.3H1040.7V2453.0H1061.0M1062.0 2268.3H1055.9V2314.8H1062.0M1040.7 2383.1H1053.1M1061.0 2360.4H1053.1V2422.5H1061.0M1053.1 2391.0H1061.0" stroke="#484848" stroke-width="2.7" fill="none" stroke-linejoin="round"/>
<path d="M1059.0 2174.0V2206.0M1059.0 2298.0V2330.0" stroke="#7d7d7d" stroke-width="4.2" fill="none"/>
<path d="M1041.4 2339.0V2382.0M1052.6 2392.0V2407.0" stroke="#0a0a0a" stroke-width="3.6" fill="none" stroke-linecap="round"/>
<text x="1646.3" y="2028.3" font-size="36" text-anchor="middle" fill="#333" textLength="242.7" lengthAdjust="spacingAndGlyphs">WNT/β-catenin</text>
<rect x="1540.7" y="2067.6" width="99.5" height="25.4" fill="#ffcfbf"/><rect x="1642.4" y="2067.1" width="103.4" height="26.4" fill="#ff997b"/>
<text transform="translate(1755.4,2091.7) scale(1.128,1)" font-size="24.5" font-style="italic" fill="#111" stroke="#111" stroke-width="0.35">FRAT1</text>
<rect x="1540.7" y="2096.2" width="99.5" height="25.4" fill="#ffe2d8"/><rect x="1642.4" y="2095.7" width="103.3" height="26.3" fill="#ff9e81"/>
<text transform="translate(1755.4,2120.3) scale(1.128,1)" font-size="24.5" font-style="italic" fill="#111" stroke="#111" stroke-width="0.35">LRP5</text>
<rect x="1540.7" y="2124.7" width="99.5" height="25.4" fill="#ffeee8"/><rect x="1642.4" y="2124.7" width="99.9" height="25.4" fill="#ffcfbf"/>
<text transform="translate(1755.4,2148.8) scale(1.128,1)" font-size="24.5" font-style="italic" fill="#111" stroke="#111" stroke-width="0.35">APC</text>
<rect x="1540.7" y="2153.3" width="99.5" height="25.4" fill="#ffffff"/><rect x="1642.4" y="2153.3" width="99.9" height="25.4" fill="#ffc6b2"/>
<text transform="translate(1755.4,2177.4) scale(1.128,1)" font-size="24.5" font-style="italic" fill="#111" stroke="#111" stroke-width="0.35">LRP6</text>
<rect x="1540.7" y="2181.9" width="99.5" height="25.4" fill="#fdfefe"/><rect x="1642.4" y="2181.9" width="99.9" height="25.4" fill="#fff1eb"/>
<text transform="translate(1755.4,2206.0) scale(1.128,1)" font-size="24.5" font-style="italic" fill="#111" stroke="#111" stroke-width="0.35">GSK3B</text>
<rect x="1540.7" y="2210.5" width="99.5" height="25.4" fill="#f3f9fb"/><rect x="1642.4" y="2210.5" width="99.9" height="25.4" fill="#fff9f7"/>
<text transform="translate(1755.4,2234.6) scale(1.128,1)" font-size="24.5" font-style="italic" fill="#111" stroke="#111" stroke-width="0.35">FZD4</text>
<rect x="1540.7" y="2239.0" width="99.5" height="25.4" fill="#ebf5f9"/><rect x="1642.4" y="2239.0" width="99.9" height="25.4" fill="#ffded2"/>
<text transform="translate(1755.4,2263.1) scale(1.128,1)" font-size="24.5" font-style="italic" fill="#111" stroke="#111" stroke-width="0.35">FZD3</text>
<rect x="1536.9" y="2267.1" width="103.3" height="26.3" fill="#ff9e81"/><rect x="1642.4" y="2267.6" width="99.9" height="25.4" fill="#ffeee8"/>
<text transform="translate(1755.4,2291.7) scale(1.128,1)" font-size="24.5" font-style="italic" fill="#111" stroke="#111" stroke-width="0.35">FZD1</text>
<rect x="1540.7" y="2296.2" width="99.5" height="25.4" fill="#ffded2"/><rect x="1642.4" y="2296.2" width="99.9" height="25.4" fill="#ffffff"/>
<text transform="translate(1755.4,2320.3) scale(1.128,1)" font-size="24.5" font-style="italic" fill="#111" stroke="#111" stroke-width="0.35">FZD2</text>
<rect x="1540.7" y="2324.8" width="99.5" height="25.4" fill="#ffece5"/><rect x="1642.4" y="2324.8" width="99.9" height="25.4" fill="#f7fbfc"/>
<text transform="translate(1755.4,2348.8) scale(1.128,1)" font-size="24.5" font-style="italic" fill="#111" stroke="#111" stroke-width="0.35">AXIN1</text>
<rect x="1540.7" y="2353.3" width="99.5" height="25.4" fill="#ffeee8"/><rect x="1642.4" y="2353.3" width="99.9" height="25.4" fill="#f7fbfc"/>
<text transform="translate(1755.4,2377.4) scale(1.128,1)" font-size="24.5" font-style="italic" fill="#111" stroke="#111" stroke-width="0.35">CTNNB1</text>
<rect x="1540.7" y="2381.9" width="99.5" height="25.4" fill="#ffe5db"/><rect x="1642.4" y="2381.9" width="99.9" height="25.4" fill="#e5f2f7"/>
<text transform="translate(1755.4,2406.0) scale(1.128,1)" font-size="24.5" font-style="italic" fill="#111" stroke="#111" stroke-width="0.35">DVL1</text>
<rect x="1540.7" y="2410.5" width="99.5" height="25.4" fill="#ffeee8"/><rect x="1642.4" y="2410.5" width="99.9" height="25.4" fill="#e9f4f8"/>
<text transform="translate(1755.4,2434.6) scale(1.128,1)" font-size="24.5" font-style="italic" fill="#111" stroke="#111" stroke-width="0.35">FZD7</text>
<rect x="1540.7" y="2439.1" width="99.5" height="25.4" fill="#ffd4c5"/><rect x="1642.4" y="2438.6" width="102.9" height="26.2" fill="#8c85f4"/>
<text transform="translate(1755.4,2463.1) scale(1.128,1)" font-size="24.5" font-style="italic" fill="#111" stroke="#111" stroke-width="0.35">DKK1</text>
<rect x="1540.7" y="2467.6" width="99.5" height="25.4" fill="#abcfe8"/><rect x="1642.4" y="2467.1" width="103.4" height="26.4" fill="#4029fd"/>
<text transform="translate(1755.4,2491.7) scale(1.128,1)" font-size="24.5" font-style="italic" fill="#111" stroke="#111" stroke-width="0.35">SOST</text>
<rect x="1535.2" y="2066.0" width="212.1" height="428.6" fill="none" stroke="#444" stroke-width="3"/>
<text x="1541.0" y="2526.0" font-size="27.5" font-weight="bold" fill="#111" textLength="94.4" lengthAdjust="spacingAndGlyphs">I-DMEM</text>
<text x="1663.0" y="2526.0" font-size="27.5" font-weight="bold" fill="#111" textLength="56.7" lengthAdjust="spacingAndGlyphs">I-OM</text>
<path d="M1496.7 2234.9H1445.2V2467.7H1490.0M1503.2 2142.4H1496.7V2325.4H1508.3M1526.6 2092.6H1503.2V2189.2H1519.5M1531.2 2079.4H1526.6V2108.9H1531.2M1526.6 2151.6H1519.5V2229.8H1523.9M1531.2 2138.4H1526.6V2165.8H1531.2M1527.2 2209.5H1523.9V2253.2H1531.2M1531.2 2195.3H1527.2V2223.7H1531.2M1531.2 2280.7H1508.3V2371.1H1519.5M1526.6 2332.5H1519.5V2410.8H1528.6M1531.2 2310.2H1526.6V2351.8H1530.0M1531.8 2339.6H1529.6V2368.1H1531.8M1531.2 2397.6H1528.6V2425.0H1531.2M1531.2 2454.5H1490.0V2484.0H1531.2" stroke="#484848" stroke-width="2.7" fill="none" stroke-linejoin="round"/>
<path d="M1524.6 2210.0V2222.0" stroke="#0a0a0a" stroke-width="3.6" fill="none" stroke-linecap="round"/>
<rect x="1533.3" y="2469.5" width="324.8" height="26" fill="none" stroke="#000" stroke-width="5"/>
<defs><linearGradient id="lg" x1="0" y1="0" x2="0" y2="1">
<stop offset="0.0000" stop-color="#780000"/>
<stop offset="0.0208" stop-color="#780000"/>
<stop offset="0.0417" stop-color="#7e0001"/>
<stop offset="0.0625" stop-color="#870002"/>
<stop offset="0.0833" stop-color="#910003"/>
<stop offset="0.1042" stop-color="#9a0003"/>
<stop offset="0.1250" stop-color="#a40004"/>
<stop offset="0.1458" stop-color="#ae0004"/>
<stop offset="0.1667" stop-color="#b80004"/>
<stop offset="0.1875" stop-color="#c20003"/>
<stop offset="0.2083" stop-color="#cc0003"/>
<stop offset="0.2292" stop-color="#d60003"/>
<stop offset="0.2500" stop-color="#e10002"/>
<stop offset="0.2708" stop-color="#eb0001"/>
<stop offset="0.2917" stop-color="#f60001"/>
<stop offset="0.3125" stop-color="#ff1205"/>
<stop offset="0.3333" stop-color="#ff4628"/>
<stop offset="0.3542" stop-color="#ff6443"/>
<stop offset="0.3750" stop-color="#ff7e5d"/>
<stop offset="0.3958" stop-color="#ff9677"/>
<stop offset="0.4167" stop-color="#ffac92"/>
<stop offset="0.4375" stop-color="#ffc2ae"/>
<stop offset="0.4583" stop-color="#ffd7c9"/>
<stop offset="0.4792" stop-color="#ffede6"/>
<stop offset="0.5000" stop-color="#fdfefe"/>
<stop offset="0.5208" stop-color="#ebf5f9"/>
<stop offset="0.5417" stop-color="#d9ecf3"/>
<stop offset="0.5625" stop-color="#c6e4ee"/>
<stop offset="0.5833" stop-color="#b4dbe8"/>
<stop offset="0.6042" stop-color="#a5beeb"/>
<stop offset="0.6250" stop-color="#9495f1"/>
<stop offset="0.6458" stop-color="#7c6bf7"/>
<stop offset="0.6667" stop-color="#573ffc"/>
<stop offset="0.6875" stop-color="#0000fd"/>
<stop offset="0.7083" stop-color="#0000f2"/>
<stop offset="0.7292" stop-color="#0000e7"/>
<stop offset="0.7500" stop-color="#0000db"/>
<stop offset="0.7708" stop-color="#0000d0"/>
<stop offset="0.7917" stop-color="#0000c5"/>
<stop offset="0.8125" stop-color="#0000ba"/>
<stop offset="0.8333" stop-color="#0000af"/>
<stop offset="0.8542" stop-color="#0000a5"/>
<stop offset="0.8750" stop-color="#00009a"/>
<stop offset="0.8958" stop-color="#000090"/>
<stop offset="0.9167" stop-color="#000086"/>
<stop offset="0.9375" stop-color="#00007b"/>
<stop offset="0.9583" stop-color="#000071"/>
<stop offset="0.9792" stop-color="#00006e"/>
<stop offset="1.0000" stop-color="#00006e"/>
</linearGradient></defs>
<rect x="85.3" y="2315.6" width="38.9" height="197.1" fill="url(#lg)"/>
<path d="M85.3 2321.3h8M124.2 2321.3h-8M85.3 2367.4h8M124.2 2367.4h-8M85.3 2459.8h8M124.2 2459.8h-8M85.3 2505.9h8M124.2 2505.9h-8" stroke="#fff" stroke-width="2"/>
<text x="86.3" y="2302.0" font-size="30" font-weight="bold" textLength="87.5" lengthAdjust="spacingAndGlyphs">logFC</text>
<text x="133.0" y="2335.9" font-size="31" textLength="29.5" lengthAdjust="spacingAndGlyphs">10</text>
<text x="133.0" y="2382.0" font-size="31" textLength="14.5" lengthAdjust="spacingAndGlyphs">5</text>
<text x="133.0" y="2428.2" font-size="31" textLength="14.5" lengthAdjust="spacingAndGlyphs">0</text>
<text x="133.0" y="2474.3" font-size="31" textLength="23.0" lengthAdjust="spacingAndGlyphs">-5</text>
<text x="133.0" y="2520.5" font-size="31" textLength="38.0" lengthAdjust="spacingAndGlyphs">-10</text>
<text x="201.6" y="2335.0" font-size="26" textLength="133.2" lengthAdjust="spacingAndGlyphs">Upregulated</text>
<text x="201.6" y="2515.0" font-size="26" textLength="164.4" lengthAdjust="spacingAndGlyphs">Downregulated</text>
</svg>
</body></html>
